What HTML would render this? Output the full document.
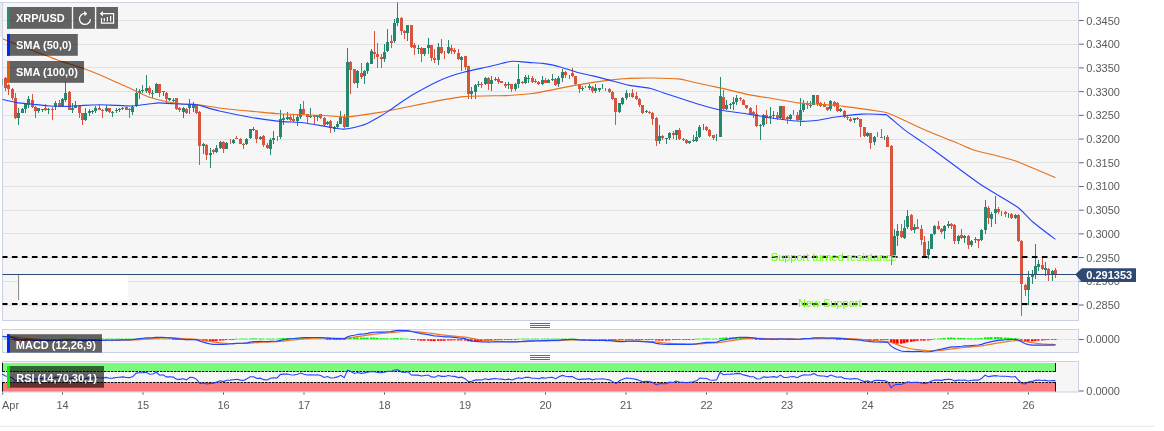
<!DOCTYPE html>
<html><head><meta charset="utf-8"><title>XRP/USD</title>
<style>html,body{margin:0;padding:0;background:#fff}#c{position:relative;width:1164px;height:431px;overflow:hidden;background:#fff}</style></head>
<body><div id="c">
<svg width="1164" height="431" viewBox="0 0 1164 431" style="position:absolute;left:0;top:0">
<rect x="2.5" y="2.5" width="1076.0" height="318.0" fill="#f6f6f6" stroke="#cbd1e8" stroke-width="1"/>
<rect x="2.5" y="329.5" width="1076.0" height="23" fill="#f6f6f6" stroke="#cbd1e8" stroke-width="1"/>
<rect x="2.5" y="361.5" width="1076.0" height="30.5" fill="#f6f6f6" stroke="#cbd1e8" stroke-width="1"/>
<line x1="3.0" x2="1078.0" y1="20.50" y2="20.50" stroke="#e2e2e2" stroke-width="1"/>
<line x1="1079.0" x2="1083.8" y1="20.50" y2="20.50" stroke="#666" stroke-width="1"/>
<line x1="3.0" x2="1078.0" y1="44.50" y2="44.50" stroke="#e2e2e2" stroke-width="1"/>
<line x1="1079.0" x2="1083.8" y1="44.21" y2="44.21" stroke="#666" stroke-width="1"/>
<line x1="3.0" x2="1078.0" y1="67.50" y2="67.50" stroke="#e2e2e2" stroke-width="1"/>
<line x1="1079.0" x2="1083.8" y1="67.92" y2="67.92" stroke="#666" stroke-width="1"/>
<line x1="3.0" x2="1078.0" y1="91.50" y2="91.50" stroke="#e2e2e2" stroke-width="1"/>
<line x1="1079.0" x2="1083.8" y1="91.63" y2="91.63" stroke="#666" stroke-width="1"/>
<line x1="3.0" x2="1078.0" y1="115.50" y2="115.50" stroke="#e2e2e2" stroke-width="1"/>
<line x1="1079.0" x2="1083.8" y1="115.34" y2="115.34" stroke="#666" stroke-width="1"/>
<line x1="3.0" x2="1078.0" y1="139.50" y2="139.50" stroke="#e2e2e2" stroke-width="1"/>
<line x1="1079.0" x2="1083.8" y1="139.05" y2="139.05" stroke="#666" stroke-width="1"/>
<line x1="3.0" x2="1078.0" y1="162.50" y2="162.50" stroke="#e2e2e2" stroke-width="1"/>
<line x1="1079.0" x2="1083.8" y1="162.76" y2="162.76" stroke="#666" stroke-width="1"/>
<line x1="3.0" x2="1078.0" y1="186.50" y2="186.50" stroke="#e2e2e2" stroke-width="1"/>
<line x1="1079.0" x2="1083.8" y1="186.47" y2="186.47" stroke="#666" stroke-width="1"/>
<line x1="3.0" x2="1078.0" y1="210.50" y2="210.50" stroke="#e2e2e2" stroke-width="1"/>
<line x1="1079.0" x2="1083.8" y1="210.18" y2="210.18" stroke="#666" stroke-width="1"/>
<line x1="3.0" x2="1078.0" y1="233.50" y2="233.50" stroke="#e2e2e2" stroke-width="1"/>
<line x1="1079.0" x2="1083.8" y1="233.89" y2="233.89" stroke="#666" stroke-width="1"/>
<line x1="3.0" x2="1078.0" y1="257.50" y2="257.50" stroke="#e2e2e2" stroke-width="1"/>
<line x1="1079.0" x2="1083.8" y1="257.60" y2="257.60" stroke="#666" stroke-width="1"/>
<line x1="3.0" x2="1078.0" y1="281.50" y2="281.50" stroke="#e2e2e2" stroke-width="1"/>
<line x1="1079.0" x2="1083.8" y1="281.31" y2="281.31" stroke="#666" stroke-width="1"/>
<line x1="3.0" x2="1078.0" y1="305.50" y2="305.50" stroke="#e2e2e2" stroke-width="1"/>
<line x1="1079.0" x2="1083.8" y1="305.02" y2="305.02" stroke="#666" stroke-width="1"/>
<line x1="3.0" x2="1078.0" y1="339.5" y2="339.5" stroke="#e2e2e2" stroke-width="1"/>
<line x1="1079.0" x2="1083.8" y1="339.5" y2="339.5" stroke="#666" stroke-width="1"/>
<line x1="1079.0" x2="1083.8" y1="391" y2="391" stroke="#666" stroke-width="1"/>
<rect x="0" y="3" width="2" height="34" fill="#ebebeb"/>
<line x1="0" x2="3" y1="2.5" y2="2.5" stroke="#cbd1e8" stroke-width="1"/>
<rect x="18.4" y="275.1" width="109.4" height="25.9" fill="#ffffff"/>
<line x1="18.6" x2="18.6" y1="275.1" y2="300" stroke="#777" stroke-width="0.9"/>
<clipPath id="cp"><rect x="2.5" y="2.5" width="1076.0" height="318.0"/></clipPath>
<g clip-path="url(#cp)">
<rect x="1.0" y="78" width="1" height="9" fill="#27866e"/>
<rect x="0.0" y="79" width="3" height="6" fill="#27866e"/>
<rect x="5.0" y="77" width="1" height="14" fill="#d9543f"/>
<rect x="4.0" y="78" width="3" height="10" fill="#d9543f"/>
<rect x="8.0" y="84" width="1" height="11" fill="#d9543f"/>
<rect x="7.0" y="85" width="3" height="4" fill="#d9543f"/>
<rect x="12.0" y="88" width="1" height="12" fill="#d9543f"/>
<rect x="11.0" y="89" width="3" height="9" fill="#d9543f"/>
<rect x="15.0" y="93" width="1" height="26" fill="#d9543f"/>
<rect x="14.0" y="98" width="3" height="20" fill="#d9543f"/>
<rect x="18.0" y="108" width="1" height="17" fill="#27866e"/>
<rect x="17.0" y="113" width="3" height="5" fill="#27866e"/>
<rect x="22.0" y="108" width="1" height="5" fill="#27866e"/>
<rect x="21.0" y="109" width="3" height="4" fill="#27866e"/>
<rect x="25.0" y="103" width="1" height="10" fill="#27866e"/>
<rect x="24.0" y="104" width="3" height="5" fill="#27866e"/>
<rect x="28.0" y="96" width="1" height="12" fill="#27866e"/>
<rect x="27.0" y="99" width="3" height="6" fill="#27866e"/>
<rect x="32.0" y="94" width="1" height="14" fill="#d9543f"/>
<rect x="31.0" y="100" width="3" height="7" fill="#d9543f"/>
<rect x="35.0" y="106" width="1" height="12" fill="#d9543f"/>
<rect x="34.0" y="107" width="3" height="4" fill="#d9543f"/>
<rect x="38.0" y="108" width="1" height="5" fill="#27866e"/>
<rect x="37.0" y="108" width="3" height="3" fill="#27866e"/>
<rect x="42.0" y="109" width="1" height="3" fill="#27866e"/>
<rect x="41.0" y="109" width="3" height="1" fill="#27866e"/>
<rect x="45.0" y="104" width="1" height="7" fill="#d9543f"/>
<rect x="44.0" y="108" width="3" height="2" fill="#d9543f"/>
<rect x="48.0" y="108" width="1" height="6" fill="#27866e"/>
<rect x="47.0" y="109" width="3" height="1" fill="#27866e"/>
<rect x="52.0" y="107" width="1" height="13" fill="#d9543f"/>
<rect x="51.0" y="109" width="3" height="1" fill="#d9543f"/>
<rect x="55.0" y="101" width="1" height="9" fill="#27866e"/>
<rect x="54.0" y="103" width="3" height="4" fill="#27866e"/>
<rect x="59.0" y="100" width="1" height="7" fill="#d9543f"/>
<rect x="58.0" y="103" width="3" height="4" fill="#d9543f"/>
<rect x="62.0" y="98" width="1" height="9" fill="#27866e"/>
<rect x="61.0" y="99" width="3" height="7" fill="#27866e"/>
<rect x="65.0" y="82" width="1" height="20" fill="#27866e"/>
<rect x="64.0" y="93" width="3" height="7" fill="#27866e"/>
<rect x="69.0" y="91" width="1" height="19" fill="#d9543f"/>
<rect x="68.0" y="92" width="3" height="18" fill="#d9543f"/>
<rect x="72.0" y="103" width="1" height="10" fill="#27866e"/>
<rect x="71.0" y="108" width="3" height="2" fill="#27866e"/>
<rect x="75.0" y="101" width="1" height="7" fill="#27866e"/>
<rect x="74.0" y="105" width="3" height="3" fill="#27866e"/>
<rect x="79.0" y="105" width="1" height="13" fill="#d9543f"/>
<rect x="78.0" y="106" width="3" height="7" fill="#d9543f"/>
<rect x="82.0" y="113" width="1" height="12" fill="#d9543f"/>
<rect x="81.0" y="113" width="3" height="7" fill="#d9543f"/>
<rect x="85.0" y="108" width="1" height="13" fill="#27866e"/>
<rect x="84.0" y="113" width="3" height="7" fill="#27866e"/>
<rect x="89.0" y="109" width="1" height="7" fill="#27866e"/>
<rect x="88.0" y="111" width="3" height="2" fill="#27866e"/>
<rect x="92.0" y="110" width="1" height="4" fill="#27866e"/>
<rect x="91.0" y="111" width="3" height="1" fill="#27866e"/>
<rect x="95.0" y="106" width="1" height="7" fill="#27866e"/>
<rect x="94.0" y="108" width="3" height="3" fill="#27866e"/>
<rect x="99.0" y="105" width="1" height="5" fill="#d9543f"/>
<rect x="98.0" y="108" width="3" height="2" fill="#d9543f"/>
<rect x="102.0" y="109" width="1" height="9" fill="#d9543f"/>
<rect x="101.0" y="110" width="3" height="1" fill="#d9543f"/>
<rect x="106.0" y="105" width="1" height="7" fill="#27866e"/>
<rect x="105.0" y="108" width="3" height="3" fill="#27866e"/>
<rect x="109.0" y="108" width="1" height="5" fill="#d9543f"/>
<rect x="108.0" y="108" width="3" height="4" fill="#d9543f"/>
<rect x="112.0" y="111" width="1" height="6" fill="#27866e"/>
<rect x="111.0" y="112" width="3" height="1" fill="#27866e"/>
<rect x="116.0" y="108" width="1" height="5" fill="#27866e"/>
<rect x="115.0" y="110" width="3" height="1" fill="#27866e"/>
<rect x="119.0" y="108" width="1" height="4" fill="#27866e"/>
<rect x="118.0" y="109" width="3" height="1" fill="#27866e"/>
<rect x="122.0" y="107" width="1" height="3" fill="#27866e"/>
<rect x="121.0" y="108" width="3" height="1" fill="#27866e"/>
<rect x="126.0" y="107" width="1" height="3" fill="#d9543f"/>
<rect x="125.0" y="107" width="3" height="3" fill="#d9543f"/>
<rect x="129.0" y="108" width="1" height="10" fill="#d9543f"/>
<rect x="128.0" y="109" width="3" height="1" fill="#d9543f"/>
<rect x="132.0" y="105" width="1" height="10" fill="#27866e"/>
<rect x="131.0" y="107" width="3" height="5" fill="#27866e"/>
<rect x="136.0" y="88" width="1" height="19" fill="#27866e"/>
<rect x="135.0" y="93" width="3" height="13" fill="#27866e"/>
<rect x="139.0" y="89" width="1" height="10" fill="#27866e"/>
<rect x="138.0" y="91" width="3" height="2" fill="#27866e"/>
<rect x="142.0" y="85" width="1" height="8" fill="#27866e"/>
<rect x="141.0" y="90" width="3" height="1" fill="#27866e"/>
<rect x="146.0" y="75" width="1" height="18" fill="#27866e"/>
<rect x="145.0" y="88" width="3" height="3" fill="#27866e"/>
<rect x="149.0" y="86" width="1" height="9" fill="#d9543f"/>
<rect x="148.0" y="88" width="3" height="5" fill="#d9543f"/>
<rect x="152.0" y="90" width="1" height="8" fill="#27866e"/>
<rect x="151.0" y="93" width="3" height="1" fill="#27866e"/>
<rect x="156.0" y="83" width="1" height="10" fill="#27866e"/>
<rect x="155.0" y="84" width="3" height="9" fill="#27866e"/>
<rect x="159.0" y="84" width="1" height="13" fill="#d9543f"/>
<rect x="158.0" y="84" width="3" height="9" fill="#d9543f"/>
<rect x="163.0" y="91" width="1" height="5" fill="#27866e"/>
<rect x="162.0" y="91" width="3" height="1" fill="#27866e"/>
<rect x="166.0" y="92" width="1" height="12" fill="#d9543f"/>
<rect x="165.0" y="93" width="3" height="6" fill="#d9543f"/>
<rect x="169.0" y="98" width="1" height="3" fill="#27866e"/>
<rect x="168.0" y="98" width="3" height="2" fill="#27866e"/>
<rect x="173.0" y="98" width="1" height="4" fill="#27866e"/>
<rect x="172.0" y="100" width="3" height="1" fill="#27866e"/>
<rect x="176.0" y="98" width="1" height="12" fill="#d9543f"/>
<rect x="175.0" y="98" width="3" height="11" fill="#d9543f"/>
<rect x="179.0" y="107" width="1" height="5" fill="#d9543f"/>
<rect x="178.0" y="108" width="3" height="2" fill="#d9543f"/>
<rect x="183.0" y="107" width="1" height="11" fill="#27866e"/>
<rect x="182.0" y="108" width="3" height="4" fill="#27866e"/>
<rect x="186.0" y="108" width="1" height="6" fill="#d9543f"/>
<rect x="185.0" y="109" width="3" height="4" fill="#d9543f"/>
<rect x="189.0" y="99" width="1" height="15" fill="#27866e"/>
<rect x="188.0" y="104" width="3" height="4" fill="#27866e"/>
<rect x="193.0" y="102" width="1" height="10" fill="#27866e"/>
<rect x="192.0" y="104" width="3" height="4" fill="#27866e"/>
<rect x="196.0" y="104" width="1" height="10" fill="#d9543f"/>
<rect x="195.0" y="105" width="3" height="8" fill="#d9543f"/>
<rect x="199.0" y="111" width="1" height="54" fill="#d9543f"/>
<rect x="198.0" y="112" width="3" height="34" fill="#d9543f"/>
<rect x="203.0" y="143" width="1" height="11" fill="#27866e"/>
<rect x="202.0" y="144" width="3" height="2" fill="#27866e"/>
<rect x="206.0" y="144" width="1" height="16" fill="#d9543f"/>
<rect x="205.0" y="145" width="3" height="10" fill="#d9543f"/>
<rect x="210.0" y="148" width="1" height="20" fill="#27866e"/>
<rect x="209.0" y="153" width="3" height="2" fill="#27866e"/>
<rect x="213.0" y="149" width="1" height="5" fill="#d9543f"/>
<rect x="212.0" y="150" width="3" height="2" fill="#d9543f"/>
<rect x="216.0" y="145" width="1" height="8" fill="#27866e"/>
<rect x="215.0" y="148" width="3" height="4" fill="#27866e"/>
<rect x="220.0" y="141" width="1" height="8" fill="#27866e"/>
<rect x="219.0" y="142" width="3" height="6" fill="#27866e"/>
<rect x="223.0" y="141" width="1" height="12" fill="#d9543f"/>
<rect x="222.0" y="142" width="3" height="7" fill="#d9543f"/>
<rect x="226.0" y="142" width="1" height="7" fill="#27866e"/>
<rect x="225.0" y="143" width="3" height="6" fill="#27866e"/>
<rect x="230.0" y="139" width="1" height="5" fill="#d9543f"/>
<rect x="233.0" y="139" width="1" height="5" fill="#27866e"/>
<rect x="232.0" y="140" width="3" height="3" fill="#27866e"/>
<rect x="236.0" y="136" width="1" height="3" fill="#d9543f"/>
<rect x="235.0" y="138" width="3" height="1" fill="#d9543f"/>
<rect x="240.0" y="138" width="1" height="6" fill="#d9543f"/>
<rect x="239.0" y="139" width="3" height="5" fill="#d9543f"/>
<rect x="243.0" y="143" width="1" height="6" fill="#d9543f"/>
<rect x="242.0" y="144" width="3" height="1" fill="#d9543f"/>
<rect x="246.0" y="138" width="1" height="7" fill="#27866e"/>
<rect x="245.0" y="139" width="3" height="5" fill="#27866e"/>
<rect x="250.0" y="129" width="1" height="10" fill="#27866e"/>
<rect x="249.0" y="129" width="3" height="9" fill="#27866e"/>
<rect x="253.0" y="127" width="1" height="4" fill="#27866e"/>
<rect x="252.0" y="129" width="3" height="1" fill="#27866e"/>
<rect x="256.0" y="130" width="1" height="13" fill="#d9543f"/>
<rect x="255.0" y="130" width="3" height="9" fill="#d9543f"/>
<rect x="260.0" y="136" width="1" height="4" fill="#27866e"/>
<rect x="259.0" y="137" width="3" height="2" fill="#27866e"/>
<rect x="263.0" y="135" width="1" height="12" fill="#d9543f"/>
<rect x="262.0" y="136" width="3" height="9" fill="#d9543f"/>
<rect x="267.0" y="143" width="1" height="6" fill="#d9543f"/>
<rect x="266.0" y="145" width="3" height="3" fill="#d9543f"/>
<rect x="270.0" y="138" width="1" height="17" fill="#27866e"/>
<rect x="269.0" y="140" width="3" height="9" fill="#27866e"/>
<rect x="273.0" y="131" width="1" height="13" fill="#27866e"/>
<rect x="272.0" y="138" width="3" height="2" fill="#27866e"/>
<rect x="277.0" y="136" width="1" height="5" fill="#d9543f"/>
<rect x="280.0" y="110" width="1" height="29" fill="#27866e"/>
<rect x="279.0" y="119" width="3" height="18" fill="#27866e"/>
<rect x="283.0" y="114" width="1" height="11" fill="#27866e"/>
<rect x="282.0" y="118" width="3" height="2" fill="#27866e"/>
<rect x="287.0" y="112" width="1" height="8" fill="#27866e"/>
<rect x="286.0" y="117" width="3" height="2" fill="#27866e"/>
<rect x="290.0" y="115" width="1" height="6" fill="#d9543f"/>
<rect x="289.0" y="117" width="3" height="3" fill="#d9543f"/>
<rect x="293.0" y="114" width="1" height="8" fill="#d9543f"/>
<rect x="292.0" y="119" width="3" height="2" fill="#d9543f"/>
<rect x="297.0" y="115" width="1" height="11" fill="#27866e"/>
<rect x="296.0" y="117" width="3" height="4" fill="#27866e"/>
<rect x="300.0" y="104" width="1" height="15" fill="#27866e"/>
<rect x="299.0" y="109" width="3" height="8" fill="#27866e"/>
<rect x="303.0" y="101" width="1" height="14" fill="#d9543f"/>
<rect x="302.0" y="109" width="3" height="5" fill="#d9543f"/>
<rect x="307.0" y="114" width="1" height="9" fill="#d9543f"/>
<rect x="306.0" y="114" width="3" height="3" fill="#d9543f"/>
<rect x="310.0" y="108" width="1" height="10" fill="#27866e"/>
<rect x="309.0" y="116" width="3" height="1" fill="#27866e"/>
<rect x="314.0" y="115" width="1" height="9" fill="#d9543f"/>
<rect x="313.0" y="115" width="3" height="2" fill="#d9543f"/>
<rect x="317.0" y="115" width="1" height="6" fill="#27866e"/>
<rect x="316.0" y="115" width="3" height="2" fill="#27866e"/>
<rect x="320.0" y="114" width="1" height="5" fill="#d9543f"/>
<rect x="319.0" y="114" width="3" height="4" fill="#d9543f"/>
<rect x="324.0" y="117" width="1" height="9" fill="#d9543f"/>
<rect x="323.0" y="118" width="3" height="7" fill="#d9543f"/>
<rect x="327.0" y="121" width="1" height="4" fill="#27866e"/>
<rect x="326.0" y="122" width="3" height="2" fill="#27866e"/>
<rect x="330.0" y="120" width="1" height="13" fill="#d9543f"/>
<rect x="329.0" y="121" width="3" height="7" fill="#d9543f"/>
<rect x="334.0" y="126" width="1" height="6" fill="#27866e"/>
<rect x="333.0" y="127" width="3" height="2" fill="#27866e"/>
<rect x="337.0" y="121" width="1" height="8" fill="#27866e"/>
<rect x="336.0" y="124" width="3" height="3" fill="#27866e"/>
<rect x="340.0" y="111" width="1" height="13" fill="#27866e"/>
<rect x="339.0" y="117" width="3" height="7" fill="#27866e"/>
<rect x="344.0" y="114" width="1" height="14" fill="#d9543f"/>
<rect x="343.0" y="117" width="3" height="10" fill="#d9543f"/>
<rect x="347.0" y="48" width="1" height="79" fill="#27866e"/>
<rect x="346.0" y="62" width="3" height="65" fill="#27866e"/>
<rect x="350.0" y="61" width="1" height="33" fill="#d9543f"/>
<rect x="349.0" y="62" width="3" height="8" fill="#d9543f"/>
<rect x="354.0" y="69" width="1" height="15" fill="#d9543f"/>
<rect x="353.0" y="69" width="3" height="14" fill="#d9543f"/>
<rect x="357.0" y="70" width="1" height="18" fill="#27866e"/>
<rect x="356.0" y="71" width="3" height="12" fill="#27866e"/>
<rect x="361.0" y="63" width="1" height="16" fill="#d9543f"/>
<rect x="360.0" y="73" width="3" height="4" fill="#d9543f"/>
<rect x="364.0" y="70" width="1" height="14" fill="#27866e"/>
<rect x="363.0" y="71" width="3" height="5" fill="#27866e"/>
<rect x="367.0" y="62" width="1" height="12" fill="#27866e"/>
<rect x="366.0" y="63" width="3" height="8" fill="#27866e"/>
<rect x="371.0" y="49" width="1" height="15" fill="#27866e"/>
<rect x="370.0" y="51" width="3" height="13" fill="#27866e"/>
<rect x="374.0" y="31" width="1" height="28" fill="#d9543f"/>
<rect x="373.0" y="52" width="3" height="2" fill="#d9543f"/>
<rect x="377.0" y="43" width="1" height="25" fill="#d9543f"/>
<rect x="376.0" y="54" width="3" height="3" fill="#d9543f"/>
<rect x="381.0" y="54" width="1" height="14" fill="#d9543f"/>
<rect x="380.0" y="57" width="3" height="2" fill="#d9543f"/>
<rect x="384.0" y="44" width="1" height="18" fill="#27866e"/>
<rect x="383.0" y="52" width="3" height="7" fill="#27866e"/>
<rect x="387.0" y="29" width="1" height="23" fill="#27866e"/>
<rect x="386.0" y="42" width="3" height="9" fill="#27866e"/>
<rect x="391.0" y="35" width="1" height="13" fill="#d9543f"/>
<rect x="390.0" y="41" width="3" height="2" fill="#d9543f"/>
<rect x="394.0" y="19" width="1" height="24" fill="#27866e"/>
<rect x="393.0" y="23" width="3" height="18" fill="#27866e"/>
<rect x="397.0" y="2" width="1" height="24" fill="#27866e"/>
<rect x="396.0" y="18" width="3" height="5" fill="#27866e"/>
<rect x="401.0" y="17" width="1" height="18" fill="#d9543f"/>
<rect x="400.0" y="18" width="3" height="13" fill="#d9543f"/>
<rect x="404.0" y="30" width="1" height="9" fill="#d9543f"/>
<rect x="403.0" y="31" width="3" height="2" fill="#d9543f"/>
<rect x="407.0" y="25" width="1" height="16" fill="#27866e"/>
<rect x="406.0" y="25" width="3" height="8" fill="#27866e"/>
<rect x="411.0" y="25" width="1" height="23" fill="#d9543f"/>
<rect x="410.0" y="25" width="3" height="22" fill="#d9543f"/>
<rect x="414.0" y="43" width="1" height="12" fill="#d9543f"/>
<rect x="413.0" y="45" width="3" height="3" fill="#d9543f"/>
<rect x="418.0" y="45" width="1" height="9" fill="#27866e"/>
<rect x="417.0" y="48" width="3" height="1" fill="#27866e"/>
<rect x="421.0" y="47" width="1" height="15" fill="#d9543f"/>
<rect x="420.0" y="48" width="3" height="6" fill="#d9543f"/>
<rect x="424.0" y="48" width="1" height="8" fill="#27866e"/>
<rect x="423.0" y="48" width="3" height="6" fill="#27866e"/>
<rect x="428.0" y="38" width="1" height="16" fill="#27866e"/>
<rect x="427.0" y="45" width="3" height="3" fill="#27866e"/>
<rect x="431.0" y="45" width="1" height="16" fill="#d9543f"/>
<rect x="430.0" y="45" width="3" height="13" fill="#d9543f"/>
<rect x="434.0" y="49" width="1" height="14" fill="#d9543f"/>
<rect x="433.0" y="58" width="3" height="2" fill="#d9543f"/>
<rect x="438.0" y="43" width="1" height="22" fill="#27866e"/>
<rect x="437.0" y="47" width="3" height="13" fill="#27866e"/>
<rect x="441.0" y="39" width="1" height="15" fill="#d9543f"/>
<rect x="440.0" y="47" width="3" height="6" fill="#d9543f"/>
<rect x="444.0" y="51" width="1" height="8" fill="#d9543f"/>
<rect x="448.0" y="40" width="1" height="14" fill="#27866e"/>
<rect x="447.0" y="47" width="3" height="6" fill="#27866e"/>
<rect x="451.0" y="45" width="1" height="9" fill="#d9543f"/>
<rect x="450.0" y="48" width="3" height="3" fill="#d9543f"/>
<rect x="454.0" y="48" width="1" height="6" fill="#d9543f"/>
<rect x="453.0" y="50" width="3" height="2" fill="#d9543f"/>
<rect x="458.0" y="49" width="1" height="11" fill="#d9543f"/>
<rect x="457.0" y="53" width="3" height="6" fill="#d9543f"/>
<rect x="461.0" y="56" width="1" height="15" fill="#27866e"/>
<rect x="460.0" y="57" width="3" height="3" fill="#27866e"/>
<rect x="465.0" y="56" width="1" height="14" fill="#d9543f"/>
<rect x="464.0" y="56" width="3" height="11" fill="#d9543f"/>
<rect x="468.0" y="66" width="1" height="33" fill="#d9543f"/>
<rect x="467.0" y="66" width="3" height="28" fill="#d9543f"/>
<rect x="471.0" y="87" width="1" height="12" fill="#27866e"/>
<rect x="470.0" y="91" width="3" height="3" fill="#27866e"/>
<rect x="475.0" y="84" width="1" height="15" fill="#27866e"/>
<rect x="474.0" y="85" width="3" height="7" fill="#27866e"/>
<rect x="478.0" y="81" width="1" height="6" fill="#27866e"/>
<rect x="477.0" y="84" width="3" height="1" fill="#27866e"/>
<rect x="481.0" y="82" width="1" height="6" fill="#d9543f"/>
<rect x="480.0" y="84" width="3" height="1" fill="#d9543f"/>
<rect x="485.0" y="77" width="1" height="8" fill="#27866e"/>
<rect x="484.0" y="78" width="3" height="6" fill="#27866e"/>
<rect x="488.0" y="77" width="1" height="13" fill="#d9543f"/>
<rect x="487.0" y="78" width="3" height="6" fill="#d9543f"/>
<rect x="491.0" y="76" width="1" height="15" fill="#27866e"/>
<rect x="490.0" y="80" width="3" height="4" fill="#27866e"/>
<rect x="495.0" y="77" width="1" height="4" fill="#27866e"/>
<rect x="494.0" y="79" width="3" height="1" fill="#27866e"/>
<rect x="498.0" y="77" width="1" height="7" fill="#d9543f"/>
<rect x="497.0" y="79" width="3" height="3" fill="#d9543f"/>
<rect x="501.0" y="81" width="1" height="2" fill="#d9543f"/>
<rect x="500.0" y="81" width="3" height="2" fill="#d9543f"/>
<rect x="505.0" y="82" width="1" height="6" fill="#d9543f"/>
<rect x="504.0" y="84" width="3" height="2" fill="#d9543f"/>
<rect x="508.0" y="82" width="1" height="7" fill="#27866e"/>
<rect x="507.0" y="84" width="3" height="1" fill="#27866e"/>
<rect x="511.0" y="84" width="1" height="8" fill="#d9543f"/>
<rect x="510.0" y="84" width="3" height="5" fill="#d9543f"/>
<rect x="515.0" y="83" width="1" height="8" fill="#27866e"/>
<rect x="514.0" y="84" width="3" height="5" fill="#27866e"/>
<rect x="518.0" y="64" width="1" height="24" fill="#27866e"/>
<rect x="517.0" y="79" width="3" height="5" fill="#27866e"/>
<rect x="522.0" y="81" width="1" height="3" fill="#d9543f"/>
<rect x="521.0" y="82" width="3" height="1" fill="#d9543f"/>
<rect x="525.0" y="75" width="1" height="9" fill="#27866e"/>
<rect x="524.0" y="77" width="3" height="6" fill="#27866e"/>
<rect x="528.0" y="75" width="1" height="8" fill="#27866e"/>
<rect x="527.0" y="78" width="3" height="1" fill="#27866e"/>
<rect x="532.0" y="76" width="1" height="7" fill="#d9543f"/>
<rect x="531.0" y="78" width="3" height="4" fill="#d9543f"/>
<rect x="535.0" y="79" width="1" height="4" fill="#d9543f"/>
<rect x="534.0" y="81" width="3" height="1" fill="#d9543f"/>
<rect x="538.0" y="81" width="1" height="4" fill="#d9543f"/>
<rect x="537.0" y="82" width="3" height="2" fill="#d9543f"/>
<rect x="542.0" y="76" width="1" height="9" fill="#27866e"/>
<rect x="541.0" y="80" width="3" height="4" fill="#27866e"/>
<rect x="545.0" y="78" width="1" height="5" fill="#d9543f"/>
<rect x="544.0" y="80" width="3" height="3" fill="#d9543f"/>
<rect x="548.0" y="79" width="1" height="4" fill="#27866e"/>
<rect x="547.0" y="80" width="3" height="3" fill="#27866e"/>
<rect x="552.0" y="74" width="1" height="7" fill="#27866e"/>
<rect x="551.0" y="79" width="3" height="1" fill="#27866e"/>
<rect x="555.0" y="78" width="1" height="8" fill="#d9543f"/>
<rect x="554.0" y="79" width="3" height="6" fill="#d9543f"/>
<rect x="558.0" y="76" width="1" height="11" fill="#27866e"/>
<rect x="557.0" y="78" width="3" height="6" fill="#27866e"/>
<rect x="562.0" y="69" width="1" height="13" fill="#27866e"/>
<rect x="561.0" y="72" width="3" height="6" fill="#27866e"/>
<rect x="565.0" y="71" width="1" height="7" fill="#d9543f"/>
<rect x="564.0" y="72" width="3" height="3" fill="#d9543f"/>
<rect x="569.0" y="75" width="1" height="4" fill="#27866e"/>
<rect x="572.0" y="68" width="1" height="9" fill="#d9543f"/>
<rect x="571.0" y="73" width="3" height="3" fill="#d9543f"/>
<rect x="575.0" y="76" width="1" height="9" fill="#d9543f"/>
<rect x="574.0" y="76" width="3" height="8" fill="#d9543f"/>
<rect x="579.0" y="84" width="1" height="9" fill="#d9543f"/>
<rect x="578.0" y="84" width="3" height="5" fill="#d9543f"/>
<rect x="582.0" y="86" width="1" height="5" fill="#27866e"/>
<rect x="581.0" y="88" width="3" height="1" fill="#27866e"/>
<rect x="585.0" y="86" width="1" height="2" fill="#d9543f"/>
<rect x="589.0" y="84" width="1" height="6" fill="#27866e"/>
<rect x="588.0" y="86" width="3" height="2" fill="#27866e"/>
<rect x="592.0" y="86" width="1" height="7" fill="#d9543f"/>
<rect x="591.0" y="87" width="3" height="4" fill="#d9543f"/>
<rect x="595.0" y="84" width="1" height="9" fill="#27866e"/>
<rect x="594.0" y="88" width="3" height="3" fill="#27866e"/>
<rect x="599.0" y="88" width="1" height="4" fill="#27866e"/>
<rect x="598.0" y="88" width="3" height="2" fill="#27866e"/>
<rect x="602.0" y="84" width="1" height="5" fill="#27866e"/>
<rect x="605.0" y="88" width="1" height="3" fill="#d9543f"/>
<rect x="609.0" y="88" width="1" height="5" fill="#d9543f"/>
<rect x="608.0" y="89" width="3" height="3" fill="#d9543f"/>
<rect x="612.0" y="91" width="1" height="9" fill="#d9543f"/>
<rect x="611.0" y="92" width="3" height="7" fill="#d9543f"/>
<rect x="615.0" y="98" width="1" height="27" fill="#d9543f"/>
<rect x="614.0" y="98" width="3" height="14" fill="#d9543f"/>
<rect x="619.0" y="103" width="1" height="10" fill="#27866e"/>
<rect x="618.0" y="103" width="3" height="9" fill="#27866e"/>
<rect x="622.0" y="97" width="1" height="8" fill="#27866e"/>
<rect x="621.0" y="98" width="3" height="6" fill="#27866e"/>
<rect x="626.0" y="90" width="1" height="10" fill="#27866e"/>
<rect x="625.0" y="93" width="3" height="5" fill="#27866e"/>
<rect x="629.0" y="93" width="1" height="4" fill="#27866e"/>
<rect x="632.0" y="89" width="1" height="9" fill="#d9543f"/>
<rect x="631.0" y="93" width="3" height="4" fill="#d9543f"/>
<rect x="636.0" y="92" width="1" height="8" fill="#d9543f"/>
<rect x="635.0" y="96" width="3" height="3" fill="#d9543f"/>
<rect x="639.0" y="98" width="1" height="9" fill="#d9543f"/>
<rect x="638.0" y="99" width="3" height="6" fill="#d9543f"/>
<rect x="642.0" y="105" width="1" height="9" fill="#d9543f"/>
<rect x="641.0" y="105" width="3" height="8" fill="#d9543f"/>
<rect x="646.0" y="110" width="1" height="3" fill="#27866e"/>
<rect x="645.0" y="111" width="3" height="1" fill="#27866e"/>
<rect x="649.0" y="111" width="1" height="3" fill="#d9543f"/>
<rect x="648.0" y="112" width="3" height="1" fill="#d9543f"/>
<rect x="652.0" y="112" width="1" height="13" fill="#d9543f"/>
<rect x="651.0" y="113" width="3" height="6" fill="#d9543f"/>
<rect x="656.0" y="117" width="1" height="29" fill="#d9543f"/>
<rect x="655.0" y="118" width="3" height="23" fill="#d9543f"/>
<rect x="659.0" y="125" width="1" height="19" fill="#27866e"/>
<rect x="658.0" y="136" width="3" height="5" fill="#27866e"/>
<rect x="662.0" y="135" width="1" height="5" fill="#d9543f"/>
<rect x="661.0" y="136" width="3" height="2" fill="#d9543f"/>
<rect x="666.0" y="138" width="1" height="6" fill="#27866e"/>
<rect x="665.0" y="138" width="3" height="1" fill="#27866e"/>
<rect x="669.0" y="132" width="1" height="8" fill="#27866e"/>
<rect x="668.0" y="133" width="3" height="5" fill="#27866e"/>
<rect x="673.0" y="131" width="1" height="8" fill="#d9543f"/>
<rect x="672.0" y="133" width="3" height="2" fill="#d9543f"/>
<rect x="676.0" y="130" width="1" height="10" fill="#27866e"/>
<rect x="675.0" y="130" width="3" height="5" fill="#27866e"/>
<rect x="679.0" y="128" width="1" height="12" fill="#d9543f"/>
<rect x="678.0" y="130" width="3" height="9" fill="#d9543f"/>
<rect x="683.0" y="138" width="1" height="3" fill="#d9543f"/>
<rect x="682.0" y="139" width="3" height="1" fill="#d9543f"/>
<rect x="686.0" y="139" width="1" height="5" fill="#d9543f"/>
<rect x="685.0" y="140" width="3" height="3" fill="#d9543f"/>
<rect x="689.0" y="141" width="1" height="3" fill="#27866e"/>
<rect x="688.0" y="141" width="3" height="2" fill="#27866e"/>
<rect x="693.0" y="135" width="1" height="7" fill="#27866e"/>
<rect x="692.0" y="140" width="3" height="1" fill="#27866e"/>
<rect x="696.0" y="131" width="1" height="11" fill="#27866e"/>
<rect x="695.0" y="137" width="3" height="4" fill="#27866e"/>
<rect x="699.0" y="125" width="1" height="13" fill="#27866e"/>
<rect x="698.0" y="127" width="3" height="10" fill="#27866e"/>
<rect x="703.0" y="124" width="1" height="6" fill="#27866e"/>
<rect x="706.0" y="126" width="1" height="5" fill="#d9543f"/>
<rect x="705.0" y="127" width="3" height="3" fill="#d9543f"/>
<rect x="709.0" y="129" width="1" height="8" fill="#d9543f"/>
<rect x="708.0" y="130" width="3" height="6" fill="#d9543f"/>
<rect x="713.0" y="135" width="1" height="5" fill="#d9543f"/>
<rect x="712.0" y="135" width="3" height="3" fill="#d9543f"/>
<rect x="716.0" y="134" width="1" height="7" fill="#27866e"/>
<rect x="720.0" y="77" width="1" height="60" fill="#27866e"/>
<rect x="719.0" y="96" width="3" height="41" fill="#27866e"/>
<rect x="723.0" y="90" width="1" height="20" fill="#d9543f"/>
<rect x="722.0" y="97" width="3" height="12" fill="#d9543f"/>
<rect x="726.0" y="100" width="1" height="10" fill="#27866e"/>
<rect x="725.0" y="105" width="3" height="4" fill="#27866e"/>
<rect x="730.0" y="103" width="1" height="6" fill="#27866e"/>
<rect x="729.0" y="104" width="3" height="1" fill="#27866e"/>
<rect x="733.0" y="97" width="1" height="13" fill="#27866e"/>
<rect x="732.0" y="102" width="3" height="2" fill="#27866e"/>
<rect x="736.0" y="95" width="1" height="10" fill="#27866e"/>
<rect x="735.0" y="98" width="3" height="4" fill="#27866e"/>
<rect x="740.0" y="97" width="1" height="4" fill="#d9543f"/>
<rect x="739.0" y="98" width="3" height="1" fill="#d9543f"/>
<rect x="743.0" y="99" width="1" height="6" fill="#d9543f"/>
<rect x="742.0" y="100" width="3" height="5" fill="#d9543f"/>
<rect x="746.0" y="105" width="1" height="4" fill="#d9543f"/>
<rect x="745.0" y="105" width="3" height="3" fill="#d9543f"/>
<rect x="750.0" y="107" width="1" height="8" fill="#d9543f"/>
<rect x="749.0" y="108" width="3" height="6" fill="#d9543f"/>
<rect x="753.0" y="111" width="1" height="7" fill="#d9543f"/>
<rect x="752.0" y="112" width="3" height="2" fill="#d9543f"/>
<rect x="756.0" y="105" width="1" height="22" fill="#d9543f"/>
<rect x="755.0" y="114" width="3" height="12" fill="#d9543f"/>
<rect x="760.0" y="124" width="1" height="16" fill="#27866e"/>
<rect x="759.0" y="125" width="3" height="1" fill="#27866e"/>
<rect x="763.0" y="114" width="1" height="13" fill="#27866e"/>
<rect x="762.0" y="115" width="3" height="10" fill="#27866e"/>
<rect x="766.0" y="110" width="1" height="14" fill="#d9543f"/>
<rect x="765.0" y="115" width="3" height="3" fill="#d9543f"/>
<rect x="770.0" y="107" width="1" height="17" fill="#27866e"/>
<rect x="769.0" y="116" width="3" height="1" fill="#27866e"/>
<rect x="773.0" y="111" width="1" height="8" fill="#27866e"/>
<rect x="772.0" y="115" width="3" height="1" fill="#27866e"/>
<rect x="777.0" y="112" width="1" height="8" fill="#d9543f"/>
<rect x="776.0" y="115" width="3" height="3" fill="#d9543f"/>
<rect x="780.0" y="106" width="1" height="13" fill="#27866e"/>
<rect x="779.0" y="106" width="3" height="12" fill="#27866e"/>
<rect x="783.0" y="106" width="1" height="14" fill="#d9543f"/>
<rect x="782.0" y="106" width="3" height="13" fill="#d9543f"/>
<rect x="787.0" y="116" width="1" height="8" fill="#d9543f"/>
<rect x="786.0" y="117" width="3" height="2" fill="#d9543f"/>
<rect x="790.0" y="114" width="1" height="6" fill="#27866e"/>
<rect x="789.0" y="115" width="3" height="4" fill="#27866e"/>
<rect x="793.0" y="110" width="1" height="5" fill="#d9543f"/>
<rect x="797.0" y="112" width="1" height="9" fill="#d9543f"/>
<rect x="796.0" y="115" width="3" height="5" fill="#d9543f"/>
<rect x="800.0" y="98" width="1" height="28" fill="#27866e"/>
<rect x="799.0" y="110" width="3" height="10" fill="#27866e"/>
<rect x="803.0" y="100" width="1" height="12" fill="#27866e"/>
<rect x="802.0" y="104" width="3" height="6" fill="#27866e"/>
<rect x="807.0" y="101" width="1" height="8" fill="#d9543f"/>
<rect x="806.0" y="103" width="3" height="2" fill="#d9543f"/>
<rect x="810.0" y="101" width="1" height="7" fill="#27866e"/>
<rect x="809.0" y="105" width="3" height="1" fill="#27866e"/>
<rect x="813.0" y="95" width="1" height="10" fill="#27866e"/>
<rect x="812.0" y="95" width="3" height="10" fill="#27866e"/>
<rect x="817.0" y="95" width="1" height="11" fill="#d9543f"/>
<rect x="816.0" y="95" width="3" height="9" fill="#d9543f"/>
<rect x="820.0" y="102" width="1" height="5" fill="#d9543f"/>
<rect x="819.0" y="103" width="3" height="3" fill="#d9543f"/>
<rect x="824.0" y="102" width="1" height="5" fill="#d9543f"/>
<rect x="823.0" y="104" width="3" height="3" fill="#d9543f"/>
<rect x="827.0" y="107" width="1" height="4" fill="#d9543f"/>
<rect x="826.0" y="107" width="3" height="3" fill="#d9543f"/>
<rect x="830.0" y="100" width="1" height="11" fill="#27866e"/>
<rect x="829.0" y="101" width="3" height="8" fill="#27866e"/>
<rect x="834.0" y="101" width="1" height="6" fill="#d9543f"/>
<rect x="833.0" y="102" width="3" height="4" fill="#d9543f"/>
<rect x="837.0" y="102" width="1" height="10" fill="#d9543f"/>
<rect x="836.0" y="103" width="3" height="8" fill="#d9543f"/>
<rect x="840.0" y="108" width="1" height="4" fill="#27866e"/>
<rect x="839.0" y="109" width="3" height="2" fill="#27866e"/>
<rect x="844.0" y="110" width="1" height="8" fill="#d9543f"/>
<rect x="843.0" y="111" width="3" height="6" fill="#d9543f"/>
<rect x="847.0" y="116" width="1" height="4" fill="#d9543f"/>
<rect x="846.0" y="117" width="3" height="1" fill="#d9543f"/>
<rect x="850.0" y="117" width="1" height="5" fill="#d9543f"/>
<rect x="849.0" y="119" width="3" height="2" fill="#d9543f"/>
<rect x="854.0" y="118" width="1" height="5" fill="#27866e"/>
<rect x="853.0" y="118" width="3" height="2" fill="#27866e"/>
<rect x="857.0" y="117" width="1" height="3" fill="#d9543f"/>
<rect x="856.0" y="118" width="3" height="1" fill="#d9543f"/>
<rect x="860.0" y="119" width="1" height="18" fill="#d9543f"/>
<rect x="859.0" y="119" width="3" height="8" fill="#d9543f"/>
<rect x="864.0" y="127" width="1" height="10" fill="#d9543f"/>
<rect x="863.0" y="127" width="3" height="9" fill="#d9543f"/>
<rect x="867.0" y="132" width="1" height="5" fill="#27866e"/>
<rect x="866.0" y="133" width="3" height="3" fill="#27866e"/>
<rect x="870.0" y="133" width="1" height="16" fill="#d9543f"/>
<rect x="869.0" y="133" width="3" height="10" fill="#d9543f"/>
<rect x="874.0" y="136" width="1" height="9" fill="#27866e"/>
<rect x="873.0" y="137" width="3" height="5" fill="#27866e"/>
<rect x="877.0" y="132" width="1" height="5" fill="#d9543f"/>
<rect x="881.0" y="129" width="1" height="9" fill="#d9543f"/>
<rect x="880.0" y="137" width="3" height="1" fill="#d9543f"/>
<rect x="884.0" y="136" width="1" height="4" fill="#27866e"/>
<rect x="887.0" y="135" width="1" height="12" fill="#d9543f"/>
<rect x="886.0" y="137" width="3" height="10" fill="#d9543f"/>
<rect x="891.0" y="145" width="1" height="120" fill="#d9543f"/>
<rect x="890.0" y="146" width="3" height="110" fill="#d9543f"/>
<rect x="894.0" y="229" width="1" height="27" fill="#27866e"/>
<rect x="893.0" y="236" width="3" height="19" fill="#27866e"/>
<rect x="897.0" y="224" width="1" height="22" fill="#27866e"/>
<rect x="896.0" y="231" width="3" height="5" fill="#27866e"/>
<rect x="901.0" y="224" width="1" height="14" fill="#d9543f"/>
<rect x="900.0" y="231" width="3" height="6" fill="#d9543f"/>
<rect x="904.0" y="220" width="1" height="19" fill="#27866e"/>
<rect x="903.0" y="228" width="3" height="10" fill="#27866e"/>
<rect x="907.0" y="210" width="1" height="19" fill="#27866e"/>
<rect x="906.0" y="216" width="3" height="11" fill="#27866e"/>
<rect x="911.0" y="214" width="1" height="17" fill="#d9543f"/>
<rect x="910.0" y="215" width="3" height="15" fill="#d9543f"/>
<rect x="914.0" y="224" width="1" height="9" fill="#27866e"/>
<rect x="913.0" y="227" width="3" height="3" fill="#27866e"/>
<rect x="917.0" y="219" width="1" height="10" fill="#d9543f"/>
<rect x="916.0" y="227" width="3" height="2" fill="#d9543f"/>
<rect x="921.0" y="225" width="1" height="20" fill="#d9543f"/>
<rect x="920.0" y="229" width="3" height="11" fill="#d9543f"/>
<rect x="924.0" y="236" width="1" height="21" fill="#d9543f"/>
<rect x="923.0" y="242" width="3" height="14" fill="#d9543f"/>
<rect x="928.0" y="241" width="1" height="18" fill="#27866e"/>
<rect x="927.0" y="249" width="3" height="6" fill="#27866e"/>
<rect x="931.0" y="234" width="1" height="15" fill="#27866e"/>
<rect x="930.0" y="234" width="3" height="15" fill="#27866e"/>
<rect x="934.0" y="225" width="1" height="10" fill="#27866e"/>
<rect x="933.0" y="226" width="3" height="8" fill="#27866e"/>
<rect x="938.0" y="221" width="1" height="9" fill="#d9543f"/>
<rect x="937.0" y="226" width="3" height="3" fill="#d9543f"/>
<rect x="941.0" y="228" width="1" height="6" fill="#d9543f"/>
<rect x="940.0" y="229" width="3" height="3" fill="#d9543f"/>
<rect x="944.0" y="225" width="1" height="14" fill="#27866e"/>
<rect x="943.0" y="226" width="3" height="5" fill="#27866e"/>
<rect x="948.0" y="221" width="1" height="7" fill="#27866e"/>
<rect x="947.0" y="224" width="3" height="2" fill="#27866e"/>
<rect x="951.0" y="223" width="1" height="6" fill="#d9543f"/>
<rect x="950.0" y="224" width="3" height="2" fill="#d9543f"/>
<rect x="954.0" y="224" width="1" height="20" fill="#d9543f"/>
<rect x="953.0" y="225" width="3" height="16" fill="#d9543f"/>
<rect x="958.0" y="235" width="1" height="9" fill="#27866e"/>
<rect x="957.0" y="236" width="3" height="5" fill="#27866e"/>
<rect x="961.0" y="229" width="1" height="10" fill="#d9543f"/>
<rect x="960.0" y="235" width="3" height="3" fill="#d9543f"/>
<rect x="964.0" y="235" width="1" height="8" fill="#27866e"/>
<rect x="963.0" y="236" width="3" height="2" fill="#27866e"/>
<rect x="968.0" y="235" width="1" height="14" fill="#d9543f"/>
<rect x="967.0" y="236" width="3" height="9" fill="#d9543f"/>
<rect x="971.0" y="240" width="1" height="7" fill="#27866e"/>
<rect x="970.0" y="241" width="3" height="4" fill="#27866e"/>
<rect x="975.0" y="237" width="1" height="6" fill="#27866e"/>
<rect x="974.0" y="239" width="3" height="1" fill="#27866e"/>
<rect x="978.0" y="239" width="1" height="9" fill="#d9543f"/>
<rect x="977.0" y="239" width="3" height="2" fill="#d9543f"/>
<rect x="981.0" y="229" width="1" height="12" fill="#27866e"/>
<rect x="980.0" y="230" width="3" height="10" fill="#27866e"/>
<rect x="985.0" y="200" width="1" height="34" fill="#27866e"/>
<rect x="984.0" y="207" width="3" height="23" fill="#27866e"/>
<rect x="988.0" y="206" width="1" height="18" fill="#d9543f"/>
<rect x="987.0" y="208" width="3" height="10" fill="#d9543f"/>
<rect x="991.0" y="212" width="1" height="15" fill="#27866e"/>
<rect x="990.0" y="214" width="3" height="5" fill="#27866e"/>
<rect x="995.0" y="196" width="1" height="28" fill="#27866e"/>
<rect x="994.0" y="209" width="3" height="4" fill="#27866e"/>
<rect x="998.0" y="207" width="1" height="7" fill="#d9543f"/>
<rect x="997.0" y="209" width="3" height="3" fill="#d9543f"/>
<rect x="1001.0" y="211" width="1" height="5" fill="#d9543f"/>
<rect x="1005.0" y="211" width="1" height="6" fill="#d9543f"/>
<rect x="1004.0" y="212" width="3" height="2" fill="#d9543f"/>
<rect x="1008.0" y="213" width="1" height="5" fill="#27866e"/>
<rect x="1011.0" y="213" width="1" height="6" fill="#d9543f"/>
<rect x="1010.0" y="214" width="3" height="4" fill="#d9543f"/>
<rect x="1015.0" y="214" width="1" height="5" fill="#27866e"/>
<rect x="1014.0" y="215" width="3" height="3" fill="#27866e"/>
<rect x="1018.0" y="214" width="1" height="28" fill="#d9543f"/>
<rect x="1017.0" y="215" width="3" height="26" fill="#d9543f"/>
<rect x="1021.0" y="240" width="1" height="76" fill="#d9543f"/>
<rect x="1020.0" y="241" width="3" height="43" fill="#d9543f"/>
<rect x="1025.0" y="284" width="1" height="12" fill="#d9543f"/>
<rect x="1024.0" y="285" width="3" height="5" fill="#d9543f"/>
<rect x="1028.0" y="271" width="1" height="34" fill="#27866e"/>
<rect x="1027.0" y="277" width="3" height="13" fill="#27866e"/>
<rect x="1032.0" y="270" width="1" height="14" fill="#27866e"/>
<rect x="1031.0" y="274" width="3" height="3" fill="#27866e"/>
<rect x="1035.0" y="244" width="1" height="35" fill="#27866e"/>
<rect x="1034.0" y="266" width="3" height="8" fill="#27866e"/>
<rect x="1038.0" y="260" width="1" height="11" fill="#27866e"/>
<rect x="1037.0" y="264" width="3" height="3" fill="#27866e"/>
<rect x="1042.0" y="258" width="1" height="12" fill="#d9543f"/>
<rect x="1041.0" y="265" width="3" height="4" fill="#d9543f"/>
<rect x="1045.0" y="262" width="1" height="14" fill="#27866e"/>
<rect x="1044.0" y="268" width="3" height="2" fill="#27866e"/>
<rect x="1048.0" y="268" width="1" height="13" fill="#d9543f"/>
<rect x="1047.0" y="269" width="3" height="6" fill="#d9543f"/>
<rect x="1052.0" y="270" width="1" height="11" fill="#27866e"/>
<rect x="1051.0" y="271" width="3" height="3" fill="#27866e"/>
<rect x="1055.0" y="268" width="1" height="10" fill="#d9543f"/>
<rect x="1054.0" y="270" width="3" height="4" fill="#d9543f"/>
<path d="M2.5,38.8C5.0,39.8 19.7,45.6 25.0,47.6C30.3,49.6 46.4,55.7 50.0,57.1C53.6,58.5 53.9,58.7 57.6,60.0C61.3,61.3 78.8,66.7 83.5,68.4C88.2,70.1 96.6,73.4 100.3,75.0C104.0,76.6 113.3,80.9 117.0,82.6C120.7,84.3 130.0,88.3 133.7,90.0C137.4,91.7 146.7,96.3 150.4,97.6C154.1,98.9 163.3,101.1 167.0,101.8C170.7,102.5 180.5,104.0 183.8,104.3C187.1,104.6 192.9,104.2 196.9,104.6C200.9,105.0 213.2,107.2 219.4,108.0C225.6,108.8 246.1,110.8 252.8,111.4C259.5,112.0 274.0,113.4 279.6,113.8C285.2,114.2 297.6,114.5 303.0,114.7C308.4,114.9 323.6,115.6 328.0,115.8C332.4,116.0 340.2,116.8 343.0,116.9C345.8,117.0 349.0,116.9 353.1,116.4C357.2,115.9 375.9,113.0 379.8,112.4C383.7,111.8 383.6,111.8 388.5,110.8C393.4,109.8 415.2,105.2 423.5,103.6C431.8,102.0 454.3,97.5 463.6,96.6C472.9,95.7 499.7,95.9 507.1,95.6C514.5,95.3 525.1,94.4 530.0,93.8C534.9,93.2 546.0,91.1 551.1,90.1C556.2,89.1 569.6,86.2 576.1,85.1C582.6,84.0 603.6,80.8 609.5,80.1C615.4,79.4 625.0,78.6 629.6,78.4C634.2,78.2 645.9,77.9 651.3,78.0C656.7,78.1 673.2,78.4 678.2,78.9C683.2,79.4 691.4,81.8 696.0,82.8C700.6,83.8 714.2,86.6 720.0,87.9C725.8,89.2 742.6,93.4 748.6,94.6C754.6,95.8 768.1,97.8 773.7,98.7C779.3,99.6 793.8,102.3 798.7,102.9C803.6,103.5 814.1,103.8 818.0,104.1C821.9,104.4 830.8,105.1 833.8,105.4C836.8,105.7 841.1,106.1 845.1,106.6C849.1,107.1 865.5,109.2 870.1,109.9C874.7,110.6 883.1,111.6 886.8,112.7C890.5,113.8 898.9,117.8 903.5,119.9C908.1,122.0 923.0,129.2 928.6,131.6C934.2,134.0 948.7,139.6 953.7,141.6C958.7,143.6 968.8,148.4 973.6,150.0C978.4,151.6 992.2,154.5 997.0,155.8C1001.8,157.1 1010.5,159.0 1017.0,161.4C1023.5,163.8 1051.1,175.8 1055.4,177.6" fill="none" stroke="#e8701a" stroke-width="1.1"/>
<path d="M2.0,99.3C3.6,99.7 13.2,102.0 16.7,102.6C20.2,103.2 29.7,103.9 33.4,104.3C37.1,104.7 46.4,105.8 50.1,106.0C53.8,106.2 63.1,106.5 66.8,106.4C70.5,106.3 79.8,105.6 83.5,105.4C87.2,105.2 96.6,104.8 100.3,104.8C104.0,104.8 113.3,105.3 117.0,105.4C120.7,105.5 130.0,106.2 133.7,106.0C137.4,105.8 147.6,104.1 150.4,103.8C153.2,103.5 155.9,102.9 158.7,102.9C161.5,102.9 171.9,103.6 175.4,103.8C178.9,104.0 187.6,104.3 190.0,104.4C192.4,104.5 193.6,104.0 196.9,104.7C200.2,105.4 213.2,109.6 219.4,111.0C225.6,112.4 246.1,116.5 252.8,117.7C259.5,118.9 274.0,120.8 279.6,121.4C285.2,122.0 297.6,122.1 303.0,122.7C308.4,123.3 323.6,126.2 328.0,126.9C332.4,127.6 340.2,129.0 343.0,129.1C345.8,129.2 350.5,128.3 353.1,127.7C355.7,127.1 363.0,125.2 366.0,124.0C369.0,122.8 377.3,117.9 379.8,116.5C382.3,115.1 384.9,113.5 388.5,111.1C392.1,108.7 406.0,98.7 411.8,95.3C417.6,91.9 434.5,82.8 440.3,80.2C446.1,77.6 458.0,73.7 463.6,72.2C469.2,70.7 485.8,67.4 490.4,66.3C495.0,65.2 502.6,63.2 505.0,62.6C507.4,62.0 510.4,61.4 512.1,61.3C513.8,61.2 518.0,61.5 520.0,61.6C522.0,61.7 527.5,62.4 530.0,62.6C532.5,62.8 539.4,62.9 542.7,63.4C546.0,63.9 555.7,65.7 559.4,66.7C563.1,67.7 572.4,71.0 576.1,72.0C579.8,73.0 589.1,75.0 592.8,75.9C596.5,76.8 605.4,79.0 609.5,80.1C613.6,81.2 625.1,84.5 629.6,85.4C634.1,86.3 645.1,87.2 649.6,88.3C654.1,89.4 664.8,93.3 670.0,95.0C675.2,96.7 690.6,101.9 696.0,103.5C701.4,105.1 713.2,108.5 719.0,109.7C724.8,110.9 742.2,113.1 748.6,114.1C755.0,115.1 771.2,118.0 777.0,118.8C782.8,119.6 795.8,121.1 800.4,121.3C805.0,121.5 814.3,120.7 818.0,120.3C821.7,119.9 830.8,117.8 833.8,117.3C836.8,116.8 842.0,116.1 845.1,115.7C848.2,115.3 857.4,114.2 861.8,114.1C866.2,114.0 881.4,114.4 884.3,114.6C887.2,114.8 885.6,114.1 887.7,115.7C889.8,117.3 899.9,126.3 903.5,129.1C907.1,131.9 917.0,138.5 920.3,140.8C923.6,143.1 926.8,145.2 933.5,150.0C940.2,154.8 971.0,178.0 980.3,184.3C989.6,190.6 1011.2,202.6 1017.0,206.8C1022.8,211.0 1028.6,218.4 1032.9,222.0C1037.2,225.6 1052.9,237.5 1055.4,239.4" fill="none" stroke="#2244ff" stroke-width="1.1"/>
</g>
<line x1="1.9" x2="1078" y1="257" y2="257" stroke="#000" stroke-width="2" stroke-dasharray="5.6 4.4" clip-path="url(#cp)"/>
<line x1="1.9" x2="1078" y1="304" y2="304" stroke="#000" stroke-width="2" stroke-dasharray="5.6 4.4" clip-path="url(#cp)"/>
<line x1="2.5" x2="1076" y1="274.5" y2="274.5" stroke="#2e4a73" stroke-width="1"/>
<clipPath id="cm"><rect x="2.5" y="329.5" width="1076" height="23"/></clipPath>
<g clip-path="url(#cm)">
<rect x="0.0" y="338.60" width="2.6" height="0.70" fill="#00f000"/>
<rect x="4.0" y="338.60" width="2.6" height="0.70" fill="#00f000"/>
<rect x="7.0" y="339.30" width="2.6" height="0.70" fill="#ff0000"/>
<rect x="11.0" y="339.30" width="2.6" height="0.70" fill="#ff0000"/>
<rect x="14.0" y="339.30" width="2.6" height="1.24" fill="#ff0000"/>
<rect x="17.0" y="339.30" width="2.6" height="1.48" fill="#ff0000"/>
<rect x="21.0" y="339.30" width="2.6" height="1.50" fill="#ff0000"/>
<rect x="24.0" y="339.30" width="2.6" height="1.33" fill="#ff0000"/>
<rect x="27.0" y="339.30" width="2.6" height="1.04" fill="#ff0000"/>
<rect x="31.0" y="339.30" width="2.6" height="0.98" fill="#ff0000"/>
<rect x="34.0" y="339.30" width="2.6" height="1.00" fill="#ff0000"/>
<rect x="37.0" y="339.30" width="2.6" height="0.89" fill="#ff0000"/>
<rect x="41.0" y="339.30" width="2.6" height="0.79" fill="#ff0000"/>
<rect x="44.0" y="339.30" width="2.6" height="0.71" fill="#ff0000"/>
<rect x="47.0" y="339.30" width="2.6" height="0.70" fill="#ff0000"/>
<rect x="51.0" y="339.30" width="2.6" height="0.70" fill="#ff0000"/>
<rect x="54.0" y="339.30" width="2.6" height="0.70" fill="#ff0000"/>
<rect x="58.0" y="339.30" width="2.6" height="0.70" fill="#ff0000"/>
<rect x="61.0" y="338.60" width="2.6" height="0.70" fill="#00f000"/>
<rect x="64.0" y="338.60" width="2.6" height="0.70" fill="#00f000"/>
<rect x="68.0" y="338.60" width="2.6" height="0.70" fill="#00f000"/>
<rect x="71.0" y="338.60" width="2.6" height="0.70" fill="#00f000"/>
<rect x="74.0" y="338.60" width="2.6" height="0.70" fill="#00f000"/>
<rect x="78.0" y="339.30" width="2.6" height="0.70" fill="#ff0000"/>
<rect x="81.0" y="339.30" width="2.6" height="0.70" fill="#ff0000"/>
<rect x="84.0" y="339.30" width="2.6" height="0.70" fill="#ff0000"/>
<rect x="88.0" y="339.30" width="2.6" height="0.70" fill="#ff0000"/>
<rect x="91.0" y="339.30" width="2.6" height="0.70" fill="#ff0000"/>
<rect x="94.0" y="339.30" width="2.6" height="0.70" fill="#ff0000"/>
<rect x="98.0" y="338.60" width="2.6" height="0.70" fill="#00f000"/>
<rect x="101.0" y="338.60" width="2.6" height="0.70" fill="#00f000"/>
<rect x="105.0" y="338.60" width="2.6" height="0.70" fill="#00f000"/>
<rect x="108.0" y="338.60" width="2.6" height="0.70" fill="#00f000"/>
<rect x="111.0" y="338.60" width="2.6" height="0.70" fill="#00f000"/>
<rect x="115.0" y="338.60" width="2.6" height="0.70" fill="#00f000"/>
<rect x="118.0" y="338.60" width="2.6" height="0.70" fill="#00f000"/>
<rect x="121.0" y="338.60" width="2.6" height="0.70" fill="#00f000"/>
<rect x="125.0" y="338.60" width="2.6" height="0.70" fill="#00f000"/>
<rect x="128.0" y="338.60" width="2.6" height="0.70" fill="#00f000"/>
<rect x="131.0" y="338.60" width="2.6" height="0.70" fill="#00f000"/>
<rect x="135.0" y="338.60" width="2.6" height="0.70" fill="#00f000"/>
<rect x="138.0" y="338.47" width="2.6" height="0.83" fill="#00f000"/>
<rect x="141.0" y="338.34" width="2.6" height="0.96" fill="#00f000"/>
<rect x="145.0" y="338.28" width="2.6" height="1.02" fill="#00f000"/>
<rect x="148.0" y="338.41" width="2.6" height="0.89" fill="#00f000"/>
<rect x="151.0" y="338.52" width="2.6" height="0.78" fill="#00f000"/>
<rect x="155.0" y="338.44" width="2.6" height="0.86" fill="#00f000"/>
<rect x="158.0" y="338.60" width="2.6" height="0.70" fill="#00f000"/>
<rect x="162.0" y="338.60" width="2.6" height="0.70" fill="#00f000"/>
<rect x="165.0" y="338.60" width="2.6" height="0.70" fill="#00f000"/>
<rect x="168.0" y="338.60" width="2.6" height="0.70" fill="#00f000"/>
<rect x="172.0" y="339.30" width="2.6" height="0.70" fill="#ff0000"/>
<rect x="175.0" y="339.30" width="2.6" height="0.70" fill="#ff0000"/>
<rect x="178.0" y="339.30" width="2.6" height="0.70" fill="#ff0000"/>
<rect x="182.0" y="339.30" width="2.6" height="0.72" fill="#ff0000"/>
<rect x="185.0" y="339.30" width="2.6" height="0.83" fill="#ff0000"/>
<rect x="188.0" y="339.30" width="2.6" height="0.70" fill="#ff0000"/>
<rect x="192.0" y="339.30" width="2.6" height="0.70" fill="#ff0000"/>
<rect x="195.0" y="339.30" width="2.6" height="0.70" fill="#ff0000"/>
<rect x="198.0" y="339.30" width="2.6" height="1.41" fill="#ff0000"/>
<rect x="202.0" y="339.30" width="2.6" height="1.77" fill="#ff0000"/>
<rect x="205.0" y="339.30" width="2.6" height="2.17" fill="#ff0000"/>
<rect x="209.0" y="339.30" width="2.6" height="2.23" fill="#ff0000"/>
<rect x="212.0" y="339.30" width="2.6" height="2.12" fill="#ff0000"/>
<rect x="215.0" y="339.30" width="2.6" height="1.82" fill="#ff0000"/>
<rect x="219.0" y="339.30" width="2.6" height="1.38" fill="#ff0000"/>
<rect x="222.0" y="339.30" width="2.6" height="1.15" fill="#ff0000"/>
<rect x="225.0" y="339.30" width="2.6" height="0.78" fill="#ff0000"/>
<rect x="229.0" y="339.30" width="2.6" height="0.70" fill="#ff0000"/>
<rect x="232.0" y="339.30" width="2.6" height="0.70" fill="#ff0000"/>
<rect x="235.0" y="338.60" width="2.6" height="0.70" fill="#00f000"/>
<rect x="239.0" y="338.60" width="2.6" height="0.70" fill="#00f000"/>
<rect x="242.0" y="338.60" width="2.6" height="0.70" fill="#00f000"/>
<rect x="245.0" y="338.60" width="2.6" height="0.70" fill="#00f000"/>
<rect x="249.0" y="338.53" width="2.6" height="0.77" fill="#00f000"/>
<rect x="252.0" y="338.32" width="2.6" height="0.98" fill="#00f000"/>
<rect x="255.0" y="338.42" width="2.6" height="0.88" fill="#00f000"/>
<rect x="259.0" y="338.47" width="2.6" height="0.83" fill="#00f000"/>
<rect x="262.0" y="338.60" width="2.6" height="0.70" fill="#00f000"/>
<rect x="266.0" y="338.60" width="2.6" height="0.70" fill="#00f000"/>
<rect x="269.0" y="338.60" width="2.6" height="0.70" fill="#00f000"/>
<rect x="272.0" y="338.60" width="2.6" height="0.70" fill="#00f000"/>
<rect x="276.0" y="338.60" width="2.6" height="0.70" fill="#00f000"/>
<rect x="279.0" y="338.33" width="2.6" height="0.97" fill="#00f000"/>
<rect x="282.0" y="338.04" width="2.6" height="1.26" fill="#00f000"/>
<rect x="286.0" y="337.89" width="2.6" height="1.41" fill="#00f000"/>
<rect x="289.0" y="337.94" width="2.6" height="1.36" fill="#00f000"/>
<rect x="292.0" y="338.05" width="2.6" height="1.25" fill="#00f000"/>
<rect x="296.0" y="338.08" width="2.6" height="1.22" fill="#00f000"/>
<rect x="299.0" y="337.99" width="2.6" height="1.31" fill="#00f000"/>
<rect x="302.0" y="338.12" width="2.6" height="1.18" fill="#00f000"/>
<rect x="306.0" y="338.33" width="2.6" height="0.97" fill="#00f000"/>
<rect x="309.0" y="338.49" width="2.6" height="0.81" fill="#00f000"/>
<rect x="313.0" y="338.60" width="2.6" height="0.70" fill="#00f000"/>
<rect x="316.0" y="338.60" width="2.6" height="0.70" fill="#00f000"/>
<rect x="319.0" y="338.60" width="2.6" height="0.70" fill="#00f000"/>
<rect x="323.0" y="338.60" width="2.6" height="0.70" fill="#00f000"/>
<rect x="326.0" y="339.30" width="2.6" height="0.70" fill="#ff0000"/>
<rect x="329.0" y="339.30" width="2.6" height="0.70" fill="#ff0000"/>
<rect x="333.0" y="339.30" width="2.6" height="0.70" fill="#ff0000"/>
<rect x="336.0" y="339.30" width="2.6" height="0.70" fill="#ff0000"/>
<rect x="339.0" y="339.30" width="2.6" height="0.70" fill="#ff0000"/>
<rect x="343.0" y="339.30" width="2.6" height="0.70" fill="#ff0000"/>
<rect x="346.0" y="338.20" width="2.6" height="1.10" fill="#00f000"/>
<rect x="349.0" y="337.56" width="2.6" height="1.74" fill="#00f000"/>
<rect x="353.0" y="337.55" width="2.6" height="1.75" fill="#00f000"/>
<rect x="356.0" y="337.39" width="2.6" height="1.91" fill="#00f000"/>
<rect x="360.0" y="337.54" width="2.6" height="1.76" fill="#00f000"/>
<rect x="363.0" y="337.62" width="2.6" height="1.68" fill="#00f000"/>
<rect x="366.0" y="337.60" width="2.6" height="1.70" fill="#00f000"/>
<rect x="370.0" y="337.44" width="2.6" height="1.86" fill="#00f000"/>
<rect x="373.0" y="337.53" width="2.6" height="1.77" fill="#00f000"/>
<rect x="376.0" y="337.80" width="2.6" height="1.50" fill="#00f000"/>
<rect x="380.0" y="338.15" width="2.6" height="1.15" fill="#00f000"/>
<rect x="383.0" y="338.30" width="2.6" height="1.00" fill="#00f000"/>
<rect x="386.0" y="338.27" width="2.6" height="1.03" fill="#00f000"/>
<rect x="390.0" y="338.38" width="2.6" height="0.92" fill="#00f000"/>
<rect x="393.0" y="338.09" width="2.6" height="1.21" fill="#00f000"/>
<rect x="396.0" y="337.93" width="2.6" height="1.37" fill="#00f000"/>
<rect x="400.0" y="338.25" width="2.6" height="1.05" fill="#00f000"/>
<rect x="403.0" y="338.60" width="2.6" height="0.70" fill="#00f000"/>
<rect x="406.0" y="338.60" width="2.6" height="0.70" fill="#00f000"/>
<rect x="410.0" y="339.30" width="2.6" height="0.70" fill="#ff0000"/>
<rect x="413.0" y="339.30" width="2.6" height="0.70" fill="#ff0000"/>
<rect x="417.0" y="339.30" width="2.6" height="1.01" fill="#ff0000"/>
<rect x="420.0" y="339.30" width="2.6" height="1.37" fill="#ff0000"/>
<rect x="423.0" y="339.30" width="2.6" height="1.47" fill="#ff0000"/>
<rect x="427.0" y="339.30" width="2.6" height="1.43" fill="#ff0000"/>
<rect x="430.0" y="339.30" width="2.6" height="1.67" fill="#ff0000"/>
<rect x="433.0" y="339.30" width="2.6" height="1.84" fill="#ff0000"/>
<rect x="437.0" y="339.30" width="2.6" height="1.59" fill="#ff0000"/>
<rect x="440.0" y="339.30" width="2.6" height="1.52" fill="#ff0000"/>
<rect x="443.0" y="339.30" width="2.6" height="1.45" fill="#ff0000"/>
<rect x="447.0" y="339.30" width="2.6" height="1.21" fill="#ff0000"/>
<rect x="450.0" y="339.30" width="2.6" height="1.13" fill="#ff0000"/>
<rect x="453.0" y="339.30" width="2.6" height="1.06" fill="#ff0000"/>
<rect x="457.0" y="339.30" width="2.6" height="1.17" fill="#ff0000"/>
<rect x="460.0" y="339.30" width="2.6" height="1.13" fill="#ff0000"/>
<rect x="464.0" y="339.30" width="2.6" height="1.30" fill="#ff0000"/>
<rect x="467.0" y="339.30" width="2.6" height="1.98" fill="#ff0000"/>
<rect x="470.0" y="339.30" width="2.6" height="2.25" fill="#ff0000"/>
<rect x="474.0" y="339.30" width="2.6" height="2.18" fill="#ff0000"/>
<rect x="477.0" y="339.30" width="2.6" height="1.98" fill="#ff0000"/>
<rect x="480.0" y="339.30" width="2.6" height="1.77" fill="#ff0000"/>
<rect x="484.0" y="339.30" width="2.6" height="1.39" fill="#ff0000"/>
<rect x="487.0" y="339.30" width="2.6" height="1.22" fill="#ff0000"/>
<rect x="490.0" y="339.30" width="2.6" height="0.94" fill="#ff0000"/>
<rect x="494.0" y="339.30" width="2.6" height="0.70" fill="#ff0000"/>
<rect x="497.0" y="339.30" width="2.6" height="0.70" fill="#ff0000"/>
<rect x="500.0" y="339.30" width="2.6" height="0.70" fill="#ff0000"/>
<rect x="504.0" y="339.30" width="2.6" height="0.70" fill="#ff0000"/>
<rect x="507.0" y="339.30" width="2.6" height="0.70" fill="#ff0000"/>
<rect x="510.0" y="339.30" width="2.6" height="0.70" fill="#ff0000"/>
<rect x="514.0" y="339.30" width="2.6" height="0.70" fill="#ff0000"/>
<rect x="517.0" y="338.60" width="2.6" height="0.70" fill="#00f000"/>
<rect x="521.0" y="338.60" width="2.6" height="0.70" fill="#00f000"/>
<rect x="524.0" y="338.60" width="2.6" height="0.70" fill="#00f000"/>
<rect x="527.0" y="338.60" width="2.6" height="0.70" fill="#00f000"/>
<rect x="531.0" y="338.60" width="2.6" height="0.70" fill="#00f000"/>
<rect x="534.0" y="338.60" width="2.6" height="0.70" fill="#00f000"/>
<rect x="537.0" y="338.60" width="2.6" height="0.70" fill="#00f000"/>
<rect x="541.0" y="338.60" width="2.6" height="0.70" fill="#00f000"/>
<rect x="544.0" y="338.60" width="2.6" height="0.70" fill="#00f000"/>
<rect x="547.0" y="338.60" width="2.6" height="0.70" fill="#00f000"/>
<rect x="551.0" y="338.60" width="2.6" height="0.70" fill="#00f000"/>
<rect x="554.0" y="338.60" width="2.6" height="0.70" fill="#00f000"/>
<rect x="557.0" y="338.60" width="2.6" height="0.70" fill="#00f000"/>
<rect x="561.0" y="338.60" width="2.6" height="0.70" fill="#00f000"/>
<rect x="564.0" y="338.60" width="2.6" height="0.70" fill="#00f000"/>
<rect x="568.0" y="338.60" width="2.6" height="0.70" fill="#00f000"/>
<rect x="571.0" y="338.60" width="2.6" height="0.70" fill="#00f000"/>
<rect x="574.0" y="338.60" width="2.6" height="0.70" fill="#00f000"/>
<rect x="578.0" y="339.30" width="2.6" height="0.70" fill="#ff0000"/>
<rect x="581.0" y="339.30" width="2.6" height="0.70" fill="#ff0000"/>
<rect x="584.0" y="339.30" width="2.6" height="0.70" fill="#ff0000"/>
<rect x="588.0" y="339.30" width="2.6" height="0.70" fill="#ff0000"/>
<rect x="591.0" y="339.30" width="2.6" height="0.70" fill="#ff0000"/>
<rect x="594.0" y="339.30" width="2.6" height="0.70" fill="#ff0000"/>
<rect x="598.0" y="339.30" width="2.6" height="0.70" fill="#ff0000"/>
<rect x="601.0" y="339.30" width="2.6" height="0.70" fill="#ff0000"/>
<rect x="604.0" y="339.30" width="2.6" height="0.70" fill="#ff0000"/>
<rect x="608.0" y="339.30" width="2.6" height="0.70" fill="#ff0000"/>
<rect x="611.0" y="339.30" width="2.6" height="0.70" fill="#ff0000"/>
<rect x="614.0" y="339.30" width="2.6" height="0.72" fill="#ff0000"/>
<rect x="618.0" y="339.30" width="2.6" height="0.71" fill="#ff0000"/>
<rect x="621.0" y="339.30" width="2.6" height="0.70" fill="#ff0000"/>
<rect x="625.0" y="339.30" width="2.6" height="0.70" fill="#ff0000"/>
<rect x="628.0" y="339.30" width="2.6" height="0.70" fill="#ff0000"/>
<rect x="631.0" y="339.30" width="2.6" height="0.70" fill="#ff0000"/>
<rect x="635.0" y="339.30" width="2.6" height="0.70" fill="#ff0000"/>
<rect x="638.0" y="339.30" width="2.6" height="0.70" fill="#ff0000"/>
<rect x="641.0" y="339.30" width="2.6" height="0.70" fill="#ff0000"/>
<rect x="645.0" y="339.30" width="2.6" height="0.70" fill="#ff0000"/>
<rect x="648.0" y="339.30" width="2.6" height="0.70" fill="#ff0000"/>
<rect x="651.0" y="339.30" width="2.6" height="0.70" fill="#ff0000"/>
<rect x="655.0" y="339.30" width="2.6" height="1.14" fill="#ff0000"/>
<rect x="658.0" y="339.30" width="2.6" height="1.28" fill="#ff0000"/>
<rect x="661.0" y="339.30" width="2.6" height="1.31" fill="#ff0000"/>
<rect x="665.0" y="339.30" width="2.6" height="1.24" fill="#ff0000"/>
<rect x="668.0" y="339.30" width="2.6" height="0.98" fill="#ff0000"/>
<rect x="672.0" y="339.30" width="2.6" height="0.79" fill="#ff0000"/>
<rect x="675.0" y="339.30" width="2.6" height="0.70" fill="#ff0000"/>
<rect x="678.0" y="339.30" width="2.6" height="0.70" fill="#ff0000"/>
<rect x="682.0" y="339.30" width="2.6" height="0.70" fill="#ff0000"/>
<rect x="685.0" y="339.30" width="2.6" height="0.70" fill="#ff0000"/>
<rect x="688.0" y="339.30" width="2.6" height="0.70" fill="#ff0000"/>
<rect x="692.0" y="339.30" width="2.6" height="0.70" fill="#ff0000"/>
<rect x="695.0" y="338.60" width="2.6" height="0.70" fill="#00f000"/>
<rect x="698.0" y="338.60" width="2.6" height="0.70" fill="#00f000"/>
<rect x="702.0" y="338.53" width="2.6" height="0.77" fill="#00f000"/>
<rect x="705.0" y="338.42" width="2.6" height="0.88" fill="#00f000"/>
<rect x="708.0" y="338.53" width="2.6" height="0.77" fill="#00f000"/>
<rect x="712.0" y="338.60" width="2.6" height="0.70" fill="#00f000"/>
<rect x="715.0" y="338.60" width="2.6" height="0.70" fill="#00f000"/>
<rect x="719.0" y="337.78" width="2.6" height="1.52" fill="#00f000"/>
<rect x="722.0" y="337.56" width="2.6" height="1.74" fill="#00f000"/>
<rect x="725.0" y="337.39" width="2.6" height="1.91" fill="#00f000"/>
<rect x="729.0" y="337.36" width="2.6" height="1.94" fill="#00f000"/>
<rect x="732.0" y="337.38" width="2.6" height="1.92" fill="#00f000"/>
<rect x="735.0" y="337.39" width="2.6" height="1.91" fill="#00f000"/>
<rect x="739.0" y="337.52" width="2.6" height="1.78" fill="#00f000"/>
<rect x="742.0" y="337.82" width="2.6" height="1.48" fill="#00f000"/>
<rect x="745.0" y="338.17" width="2.6" height="1.13" fill="#00f000"/>
<rect x="749.0" y="338.59" width="2.6" height="0.71" fill="#00f000"/>
<rect x="752.0" y="338.60" width="2.6" height="0.70" fill="#00f000"/>
<rect x="755.0" y="339.30" width="2.6" height="0.70" fill="#ff0000"/>
<rect x="759.0" y="339.30" width="2.6" height="0.70" fill="#ff0000"/>
<rect x="762.0" y="339.30" width="2.6" height="0.70" fill="#ff0000"/>
<rect x="765.0" y="339.30" width="2.6" height="0.70" fill="#ff0000"/>
<rect x="769.0" y="339.30" width="2.6" height="0.70" fill="#ff0000"/>
<rect x="772.0" y="339.30" width="2.6" height="0.70" fill="#ff0000"/>
<rect x="776.0" y="339.30" width="2.6" height="0.70" fill="#ff0000"/>
<rect x="779.0" y="338.60" width="2.6" height="0.70" fill="#00f000"/>
<rect x="782.0" y="339.30" width="2.6" height="0.70" fill="#ff0000"/>
<rect x="786.0" y="339.30" width="2.6" height="0.70" fill="#ff0000"/>
<rect x="789.0" y="339.30" width="2.6" height="0.70" fill="#ff0000"/>
<rect x="792.0" y="339.30" width="2.6" height="0.70" fill="#ff0000"/>
<rect x="796.0" y="339.30" width="2.6" height="0.70" fill="#ff0000"/>
<rect x="799.0" y="339.30" width="2.6" height="0.70" fill="#ff0000"/>
<rect x="802.0" y="338.60" width="2.6" height="0.70" fill="#00f000"/>
<rect x="806.0" y="338.60" width="2.6" height="0.70" fill="#00f000"/>
<rect x="809.0" y="338.60" width="2.6" height="0.70" fill="#00f000"/>
<rect x="812.0" y="338.60" width="2.6" height="0.70" fill="#00f000"/>
<rect x="816.0" y="338.60" width="2.6" height="0.70" fill="#00f000"/>
<rect x="819.0" y="338.60" width="2.6" height="0.70" fill="#00f000"/>
<rect x="823.0" y="338.60" width="2.6" height="0.70" fill="#00f000"/>
<rect x="826.0" y="338.60" width="2.6" height="0.70" fill="#00f000"/>
<rect x="829.0" y="338.60" width="2.6" height="0.70" fill="#00f000"/>
<rect x="833.0" y="338.60" width="2.6" height="0.70" fill="#00f000"/>
<rect x="836.0" y="339.30" width="2.6" height="0.70" fill="#ff0000"/>
<rect x="839.0" y="339.30" width="2.6" height="0.70" fill="#ff0000"/>
<rect x="843.0" y="339.30" width="2.6" height="0.70" fill="#ff0000"/>
<rect x="846.0" y="339.30" width="2.6" height="0.70" fill="#ff0000"/>
<rect x="849.0" y="339.30" width="2.6" height="0.70" fill="#ff0000"/>
<rect x="853.0" y="339.30" width="2.6" height="0.70" fill="#ff0000"/>
<rect x="856.0" y="339.30" width="2.6" height="0.70" fill="#ff0000"/>
<rect x="859.0" y="339.30" width="2.6" height="0.83" fill="#ff0000"/>
<rect x="863.0" y="339.30" width="2.6" height="1.07" fill="#ff0000"/>
<rect x="866.0" y="339.30" width="2.6" height="1.10" fill="#ff0000"/>
<rect x="869.0" y="339.30" width="2.6" height="1.29" fill="#ff0000"/>
<rect x="873.0" y="339.30" width="2.6" height="1.18" fill="#ff0000"/>
<rect x="876.0" y="339.30" width="2.6" height="1.02" fill="#ff0000"/>
<rect x="880.0" y="339.30" width="2.6" height="0.89" fill="#ff0000"/>
<rect x="883.0" y="339.30" width="2.6" height="0.74" fill="#ff0000"/>
<rect x="886.0" y="339.30" width="2.6" height="0.81" fill="#ff0000"/>
<rect x="890.0" y="339.30" width="2.6" height="3.31" fill="#ff0000"/>
<rect x="893.0" y="339.30" width="2.6" height="4.21" fill="#ff0000"/>
<rect x="896.0" y="339.30" width="2.6" height="4.41" fill="#ff0000"/>
<rect x="900.0" y="339.30" width="2.6" height="4.39" fill="#ff0000"/>
<rect x="903.0" y="339.30" width="2.6" height="3.88" fill="#ff0000"/>
<rect x="906.0" y="339.30" width="2.6" height="3.02" fill="#ff0000"/>
<rect x="910.0" y="339.30" width="2.6" height="2.58" fill="#ff0000"/>
<rect x="913.0" y="339.30" width="2.6" height="2.02" fill="#ff0000"/>
<rect x="916.0" y="339.30" width="2.6" height="1.51" fill="#ff0000"/>
<rect x="920.0" y="339.30" width="2.6" height="1.30" fill="#ff0000"/>
<rect x="923.0" y="339.30" width="2.6" height="1.38" fill="#ff0000"/>
<rect x="927.0" y="339.30" width="2.6" height="1.09" fill="#ff0000"/>
<rect x="930.0" y="339.30" width="2.6" height="0.70" fill="#ff0000"/>
<rect x="933.0" y="338.60" width="2.6" height="0.70" fill="#00f000"/>
<rect x="937.0" y="338.53" width="2.6" height="0.77" fill="#00f000"/>
<rect x="940.0" y="338.26" width="2.6" height="1.04" fill="#00f000"/>
<rect x="943.0" y="337.92" width="2.6" height="1.38" fill="#00f000"/>
<rect x="947.0" y="337.63" width="2.6" height="1.67" fill="#00f000"/>
<rect x="950.0" y="337.52" width="2.6" height="1.78" fill="#00f000"/>
<rect x="953.0" y="337.80" width="2.6" height="1.50" fill="#00f000"/>
<rect x="957.0" y="337.87" width="2.6" height="1.43" fill="#00f000"/>
<rect x="960.0" y="337.95" width="2.6" height="1.35" fill="#00f000"/>
<rect x="963.0" y="337.97" width="2.6" height="1.33" fill="#00f000"/>
<rect x="967.0" y="338.19" width="2.6" height="1.11" fill="#00f000"/>
<rect x="970.0" y="338.23" width="2.6" height="1.07" fill="#00f000"/>
<rect x="974.0" y="338.21" width="2.6" height="1.09" fill="#00f000"/>
<rect x="977.0" y="338.23" width="2.6" height="1.07" fill="#00f000"/>
<rect x="980.0" y="338.00" width="2.6" height="1.30" fill="#00f000"/>
<rect x="984.0" y="337.33" width="2.6" height="1.97" fill="#00f000"/>
<rect x="987.0" y="337.21" width="2.6" height="2.09" fill="#00f000"/>
<rect x="990.0" y="337.11" width="2.6" height="2.19" fill="#00f000"/>
<rect x="994.0" y="337.02" width="2.6" height="2.28" fill="#00f000"/>
<rect x="997.0" y="337.11" width="2.6" height="2.19" fill="#00f000"/>
<rect x="1000.0" y="337.28" width="2.6" height="2.02" fill="#00f000"/>
<rect x="1004.0" y="337.48" width="2.6" height="1.82" fill="#00f000"/>
<rect x="1007.0" y="337.71" width="2.6" height="1.59" fill="#00f000"/>
<rect x="1010.0" y="337.98" width="2.6" height="1.32" fill="#00f000"/>
<rect x="1014.0" y="338.15" width="2.6" height="1.15" fill="#00f000"/>
<rect x="1017.0" y="338.60" width="2.6" height="0.70" fill="#00f000"/>
<rect x="1020.0" y="339.30" width="2.6" height="1.07" fill="#ff0000"/>
<rect x="1024.0" y="339.30" width="2.6" height="2.07" fill="#ff0000"/>
<rect x="1027.0" y="339.30" width="2.6" height="2.25" fill="#ff0000"/>
<rect x="1031.0" y="339.30" width="2.6" height="2.16" fill="#ff0000"/>
<rect x="1034.0" y="339.30" width="2.6" height="1.79" fill="#ff0000"/>
<rect x="1037.0" y="339.30" width="2.6" height="1.38" fill="#ff0000"/>
<rect x="1041.0" y="339.30" width="2.6" height="1.14" fill="#ff0000"/>
<rect x="1044.0" y="339.30" width="2.6" height="0.87" fill="#ff0000"/>
<rect x="1047.0" y="339.30" width="2.6" height="0.76" fill="#ff0000"/>
<rect x="1051.0" y="339.30" width="2.6" height="0.70" fill="#ff0000"/>
<rect x="1054.0" y="339.30" width="2.6" height="0.70" fill="#ff0000"/>
<polyline points="2.0,336.63 5.4,336.62 8.7,336.68 12.1,336.83 15.4,337.18 18.8,337.59 22.1,338.01 25.5,338.37 28.8,338.66 32.2,338.94 35.5,339.21 38.9,339.46 42.3,339.68 45.6,339.88 49.0,340.04 52.3,340.18 55.7,340.25 59.0,340.30 62.4,340.27 65.7,340.17 69.1,340.13 72.5,340.11 75.8,340.09 79.2,340.12 82.5,340.21 85.9,340.30 89.2,340.36 92.6,340.41 95.9,340.41 99.3,340.40 102.7,340.38 106.0,340.35 109.4,340.32 112.7,340.30 116.1,340.27 119.4,340.22 122.8,340.16 126.1,340.10 129.5,340.05 132.8,339.98 136.2,339.81 139.6,339.58 142.9,339.32 146.3,339.03 149.6,338.78 153.0,338.57 156.3,338.33 159.7,338.15 163.0,338.01 166.4,337.96 169.8,337.95 173.1,338.00 176.5,338.13 179.8,338.32 183.2,338.52 186.5,338.75 189.9,338.93 193.2,339.08 196.6,339.25 200.0,339.64 203.3,340.13 206.7,340.74 210.0,341.36 213.4,341.95 216.7,342.45 220.1,342.83 223.4,343.15 226.8,343.37 230.1,343.50 233.5,343.54 236.9,343.51 240.2,343.46 243.6,343.40 246.9,343.28 250.3,343.06 253.6,342.79 257.0,342.55 260.3,342.32 263.7,342.15 267.1,342.05 270.4,341.93 273.8,341.79 277.1,341.65 280.5,341.38 283.8,341.03 287.2,340.64 290.5,340.26 293.9,339.91 297.3,339.58 300.6,339.21 304.0,338.89 307.3,338.62 310.7,338.39 314.0,338.21 317.4,338.07 320.7,337.97 324.1,337.95 327.5,337.97 330.8,338.06 334.2,338.17 337.5,338.28 340.9,338.34 344.2,338.43 347.6,338.13 350.9,337.65 354.3,337.16 357.6,336.63 361.0,336.14 364.4,335.68 367.7,335.20 371.1,334.69 374.4,334.20 377.8,333.78 381.1,333.46 384.5,333.18 387.8,332.90 391.2,332.64 394.6,332.30 397.9,331.92 401.3,331.63 404.6,331.44 408.0,331.29 411.3,331.33 414.7,331.52 418.0,331.80 421.4,332.18 424.8,332.58 428.1,332.98 431.5,333.44 434.8,333.95 438.2,334.40 441.5,334.82 444.9,335.22 448.2,335.55 451.6,335.87 454.9,336.16 458.3,336.49 461.7,336.80 465.0,337.16 468.4,337.71 471.7,338.34 475.1,338.94 478.4,339.49 481.8,339.99 485.1,340.37 488.5,340.71 491.9,340.97 495.2,341.16 498.6,341.30 501.9,341.42 505.3,341.52 508.6,341.59 512.0,341.66 515.3,341.70 518.7,341.67 522.1,341.63 525.4,341.53 528.8,341.41 532.1,341.29 535.5,341.18 538.8,341.10 542.2,341.00 545.5,340.92 548.9,340.82 552.2,340.71 555.6,340.64 559.0,340.54 562.3,340.39 565.7,340.24 569.0,340.09 572.4,339.96 575.7,339.89 579.1,339.89 582.4,339.93 585.8,339.99 589.2,340.04 592.5,340.12 595.9,340.20 599.2,340.26 602.6,340.31 605.9,340.35 609.3,340.40 612.6,340.50 616.0,340.70 619.4,340.90 622.7,341.04 626.1,341.12 629.4,341.14 632.8,341.15 636.1,341.15 639.5,341.19 642.8,341.29 646.2,341.41 649.5,341.54 652.9,341.71 656.3,342.02 659.6,342.38 663.0,342.74 666.3,343.09 669.7,343.36 673.0,343.58 676.4,343.71 679.7,343.83 683.1,343.92 686.5,344.01 689.8,344.06 693.2,344.07 696.5,344.03 699.9,343.88 703.2,343.66 706.6,343.42 709.9,343.20 713.3,343.02 716.7,342.85 720.0,342.42 723.4,341.94 726.7,341.41 730.1,340.87 733.4,340.34 736.8,339.81 740.1,339.31 743.5,338.90 746.9,338.59 750.2,338.39 753.6,338.28 756.9,338.31 760.3,338.41 763.6,338.51 767.0,338.61 770.3,338.70 773.7,338.76 777.0,338.84 780.4,338.84 783.8,338.87 787.1,338.93 790.5,338.97 793.8,338.99 797.2,339.04 800.5,339.05 803.9,338.98 807.2,338.88 810.6,338.77 814.0,338.59 817.3,338.44 820.7,338.33 824.0,338.26 827.4,338.24 830.7,338.19 834.1,338.17 837.4,338.20 840.8,338.24 844.2,338.35 847.5,338.51 850.9,338.70 854.2,338.90 857.6,339.09 860.9,339.31 864.3,339.61 867.6,339.92 871.0,340.28 874.3,340.61 877.7,340.89 881.1,341.14 884.4,341.34 887.8,341.57 891.1,342.49 894.5,343.66 897.8,344.88 901.2,346.10 904.5,347.18 907.9,348.02 911.3,348.74 914.6,349.30 918.0,349.72 921.3,350.08 924.7,350.46 928.0,350.76 931.4,350.88 934.7,350.80 938.1,350.59 941.5,350.30 944.8,349.91 948.2,349.45 951.5,348.96 954.9,348.54 958.2,348.14 961.6,347.77 964.9,347.40 968.3,347.09 971.6,346.79 975.0,346.49 978.4,346.19 981.7,345.83 985.1,345.28 988.4,344.70 991.8,344.09 995.1,343.46 998.5,342.85 1001.8,342.29 1005.2,341.79 1008.6,341.35 1011.9,340.98 1015.3,340.66 1018.6,340.55 1022.0,340.85 1025.3,341.42 1028.7,342.05 1032.0,342.65 1035.4,343.14 1038.8,343.53 1042.1,343.85 1045.5,344.09 1048.8,344.30 1052.2,344.45 1055.5,344.55" fill="none" stroke="#f07820" stroke-width="1.2"/>
<polyline points="2.0,336.29 5.4,336.61 8.7,336.91 12.1,337.45 15.4,338.55 18.8,339.24 22.1,339.67 25.5,339.85 28.8,339.82 32.2,340.03 35.5,340.32 38.9,340.45 42.3,340.56 45.6,340.67 49.0,340.70 52.3,340.73 55.7,340.53 59.0,340.48 62.4,340.19 65.7,339.76 69.1,339.95 72.5,340.04 75.8,340.01 79.2,340.23 82.5,340.60 85.9,340.64 89.2,340.62 92.6,340.58 95.9,340.42 99.3,340.35 102.7,340.32 106.0,340.21 109.4,340.23 112.7,340.22 116.1,340.14 119.4,340.04 122.8,339.91 126.1,339.87 129.5,339.84 132.8,339.71 136.2,339.15 139.6,338.66 142.9,338.25 146.3,337.90 149.6,337.79 153.0,337.70 156.3,337.38 159.7,337.44 163.0,337.45 166.4,337.73 169.8,337.94 173.1,338.17 176.5,338.66 179.8,339.06 183.2,339.32 186.5,339.68 189.9,339.66 193.2,339.67 196.6,339.94 200.0,341.21 203.3,342.10 206.7,343.15 210.0,343.84 213.4,344.30 216.7,344.47 220.1,344.36 223.4,344.43 226.8,344.24 230.1,344.01 233.5,343.72 236.9,343.39 240.2,343.25 243.6,343.14 246.9,342.80 250.3,342.20 253.6,341.70 257.0,341.57 260.3,341.39 263.7,341.49 267.1,341.63 270.4,341.47 273.8,341.24 277.1,341.08 280.5,340.30 283.8,339.63 287.2,339.07 290.5,338.75 293.9,338.52 297.3,338.22 300.6,337.76 304.0,337.58 307.3,337.53 310.7,337.49 314.0,337.51 317.4,337.48 320.7,337.57 324.1,337.89 327.5,338.06 330.8,338.39 334.2,338.63 337.5,338.72 340.9,338.58 344.2,338.81 347.6,336.91 350.9,335.72 354.3,335.22 357.6,334.51 361.0,334.19 364.4,333.81 367.7,333.31 371.1,332.62 374.4,332.23 377.8,332.11 381.1,332.18 384.5,332.07 387.8,331.76 391.2,331.62 394.6,330.96 397.9,330.40 401.3,330.47 404.6,330.67 408.0,330.70 411.3,331.50 414.7,332.25 418.0,332.91 421.4,333.70 424.8,334.21 428.1,334.57 431.5,335.30 434.8,336.00 438.2,336.16 441.5,336.50 444.9,336.83 448.2,336.90 451.6,337.12 454.9,337.35 458.3,337.78 461.7,338.06 465.0,338.61 468.4,339.91 471.7,340.84 475.1,341.36 478.4,341.69 481.8,341.95 485.1,341.91 488.5,342.07 491.9,342.02 495.2,341.90 498.6,341.88 501.9,341.87 505.3,341.93 508.6,341.87 512.0,341.96 515.3,341.83 518.7,341.57 522.1,341.45 525.4,341.14 528.8,340.90 532.1,340.83 535.5,340.76 538.8,340.76 542.2,340.62 545.5,340.57 548.9,340.43 552.2,340.29 555.6,340.35 559.0,340.15 562.3,339.79 565.7,339.62 569.0,339.52 572.4,339.42 575.7,339.61 579.1,339.91 582.4,340.09 585.8,340.22 589.2,340.26 592.5,340.44 595.9,340.49 599.2,340.51 602.6,340.49 605.9,340.53 609.3,340.61 612.6,340.90 616.0,341.50 619.4,341.69 622.7,341.62 626.1,341.40 629.4,341.24 632.8,341.17 636.1,341.17 639.5,341.34 642.8,341.69 646.2,341.89 649.5,342.07 652.9,342.37 656.3,343.29 659.6,343.80 663.0,344.20 666.3,344.46 669.7,344.45 673.0,344.46 676.4,344.25 679.7,344.29 683.1,344.30 686.5,344.35 689.8,344.28 693.2,344.12 696.5,343.85 699.9,343.27 703.2,342.80 706.6,342.45 709.9,342.35 713.3,342.28 716.7,342.15 720.0,340.73 723.4,340.00 726.7,339.29 730.1,338.71 733.4,338.21 736.8,337.69 740.1,337.33 743.5,337.26 746.9,337.33 750.2,337.60 753.6,337.83 756.9,338.42 760.3,338.85 763.6,338.89 767.0,339.01 770.3,339.05 773.7,339.03 777.0,339.13 780.4,338.83 783.8,339.01 787.1,339.15 790.5,339.13 793.8,339.08 797.2,339.24 800.5,339.07 803.9,338.72 807.2,338.49 810.6,338.31 814.0,337.89 817.3,337.85 820.7,337.89 824.0,337.97 827.4,338.15 830.7,338.01 834.1,338.08 837.4,338.30 840.8,338.44 844.2,338.79 847.5,339.13 850.9,339.48 854.2,339.67 857.6,339.84 860.9,340.23 864.3,340.80 867.6,341.14 871.0,341.71 874.3,341.92 877.7,342.02 881.1,342.13 884.4,342.17 887.8,342.47 891.1,346.16 894.5,348.34 897.8,349.78 901.2,350.98 904.5,351.49 907.9,351.38 911.3,351.61 914.6,351.54 918.0,351.40 921.3,351.52 924.7,351.99 928.0,351.97 931.4,351.36 934.7,350.47 938.1,349.73 941.5,349.14 944.8,348.38 948.2,347.60 951.5,346.97 954.9,346.87 958.2,346.55 961.6,346.27 964.9,345.91 968.3,345.85 971.6,345.60 975.0,345.27 978.4,345.01 981.7,344.38 985.1,343.09 988.4,342.38 991.8,341.66 995.1,340.93 998.5,340.42 1001.8,340.05 1005.2,339.77 1008.6,339.57 1011.9,339.52 1015.3,339.39 1018.6,340.11 1022.0,342.04 1025.3,343.72 1028.7,344.55 1032.0,345.04 1035.4,345.13 1038.8,345.06 1042.1,345.11 1045.5,345.05 1048.8,345.14 1052.2,345.04 1055.5,344.97" fill="none" stroke="#2244ff" stroke-width="1.2"/>
</g>
<rect x="2.5" y="363" width="1053.0" height="8.5" fill="#7bfa7b"/>
<rect x="2.5" y="382.5" width="1053.0" height="9" fill="#fa7b7b"/>
<line x1="2.5" x2="1055.5" y1="371.5" y2="371.5" stroke="#000" stroke-width="1" stroke-dasharray="2.4 1.1"/>
<line x1="2.5" x2="1055.5" y1="382.5" y2="382.5" stroke="#000" stroke-width="1" stroke-dasharray="2.4 1.1"/>
<line x1="2.5" x2="2.5" y1="363" y2="372" stroke="#111" stroke-width="1"/>
<line x1="2.5" x2="2.5" y1="382" y2="391.5" stroke="#111" stroke-width="1"/>
<line x1="1055.5" x2="1055.5" y1="363" y2="372" stroke="#111" stroke-width="1"/>
<line x1="1055.5" x2="1055.5" y1="382" y2="391.5" stroke="#111" stroke-width="1"/>
<polyline points="2.0,373.95 5.4,376.05 8.7,376.23 12.1,377.90 15.4,380.94 18.8,379.77 22.1,379.12 25.5,378.17 28.8,377.26 32.2,378.46 35.5,379.09 38.9,378.58 42.3,378.64 45.6,378.87 49.0,378.59 52.3,378.73 55.7,377.15 59.0,377.94 62.4,376.28 65.7,375.14 69.1,378.43 72.5,378.10 75.8,377.49 79.2,378.89 82.5,379.92 85.9,378.33 89.2,378.10 92.6,377.99 95.9,377.27 99.3,377.71 102.7,377.96 106.0,377.35 109.4,378.18 112.7,378.09 116.1,377.53 119.4,377.25 122.8,376.91 126.1,377.50 129.5,377.65 132.8,376.56 136.2,373.14 139.6,372.82 142.9,372.66 146.3,372.34 149.6,374.20 153.0,374.00 156.3,372.27 159.7,375.23 163.0,374.80 166.4,376.91 169.8,376.71 173.1,377.14 176.5,379.27 179.8,379.37 183.2,378.72 186.5,379.84 189.9,377.29 193.2,377.49 196.6,379.31 200.0,383.56 203.3,382.97 206.7,383.97 210.0,383.37 213.4,383.17 216.7,382.13 220.1,380.76 223.4,381.58 226.8,380.27 230.1,380.08 233.5,379.69 236.9,379.30 240.2,380.12 243.6,380.39 246.9,378.71 250.3,376.74 253.6,376.74 257.0,378.54 260.3,378.17 263.7,379.64 267.1,380.04 270.4,378.28 273.8,377.73 277.1,378.00 280.5,374.38 283.8,374.14 287.2,374.01 290.5,374.81 293.9,375.01 297.3,374.26 300.6,373.04 304.0,374.34 307.3,374.97 310.7,374.81 314.0,375.04 317.4,374.69 320.7,375.43 324.1,377.41 327.5,376.58 330.8,377.99 334.2,377.77 337.5,376.88 340.9,375.31 344.2,377.74 347.6,370.14 350.9,371.54 354.3,373.43 357.6,372.51 361.0,373.36 364.4,372.88 367.7,372.23 371.1,371.39 374.4,371.80 377.8,372.35 381.1,372.77 384.5,372.11 387.8,371.31 391.2,371.46 394.6,370.04 397.9,369.79 401.3,372.04 404.6,372.33 408.0,371.71 411.3,375.06 414.7,375.17 418.0,375.17 421.4,376.04 424.8,375.42 428.1,375.00 431.5,376.89 434.8,377.25 438.2,375.47 441.5,376.33 444.9,376.42 448.2,375.54 451.6,376.22 454.9,376.36 458.3,377.57 461.7,377.15 465.0,378.67 468.4,381.62 471.7,381.18 475.1,380.16 478.4,379.87 481.8,379.97 485.1,378.74 488.5,379.62 491.9,378.85 495.2,378.54 498.6,379.04 501.9,379.17 505.3,379.69 508.6,379.12 512.0,379.93 515.3,378.76 518.7,377.84 522.1,378.47 525.4,377.19 528.8,377.33 532.1,378.20 535.5,378.20 538.8,378.73 542.2,377.63 545.5,378.21 548.9,377.53 552.2,377.30 555.6,378.75 559.0,376.74 562.3,375.42 565.7,376.29 569.0,376.63 572.4,376.51 575.7,378.59 579.1,379.65 582.4,379.15 585.8,379.12 589.2,378.62 592.5,379.81 595.9,378.98 599.2,378.98 602.6,378.68 605.9,379.29 609.3,379.84 612.6,381.61 616.0,383.67 619.4,380.83 622.7,379.15 626.1,378.07 629.4,378.25 632.8,378.81 636.1,379.36 639.5,380.54 642.8,381.86 646.2,381.32 649.5,381.60 652.9,382.54 656.3,384.99 659.6,383.54 663.0,383.71 666.3,383.71 669.7,382.17 673.0,382.50 676.4,381.02 679.7,382.20 683.1,382.31 686.5,382.76 689.8,382.22 693.2,381.67 696.5,380.85 699.9,378.01 703.2,378.19 706.6,378.57 709.9,379.95 713.3,380.27 716.7,379.74 720.0,372.40 723.4,374.79 726.7,374.28 730.1,374.17 733.4,373.95 736.8,373.40 740.1,373.59 743.5,374.90 746.9,375.61 750.2,376.79 753.6,376.79 756.9,379.05 760.3,378.69 763.6,376.86 767.0,377.33 770.3,376.99 773.7,376.65 777.0,377.37 780.4,375.10 783.8,377.55 787.1,377.55 790.5,376.73 793.8,376.57 797.2,377.76 800.5,375.96 803.9,374.83 807.2,375.02 810.6,375.02 814.0,373.48 817.3,375.44 820.7,375.87 824.0,376.06 827.4,376.82 830.7,375.02 834.1,376.15 837.4,377.21 840.8,376.85 844.2,378.37 847.5,378.68 850.9,379.16 854.2,378.51 857.6,378.69 860.9,380.31 864.3,381.63 867.6,380.91 871.0,382.33 874.3,380.54 877.7,380.32 881.1,380.59 884.4,380.50 887.8,382.00 891.1,387.65 894.5,384.90 897.8,384.26 901.2,384.49 904.5,383.28 907.9,381.83 911.3,382.60 914.6,382.18 918.0,382.28 921.3,382.95 924.7,383.76 928.0,382.73 931.4,380.92 934.7,379.94 938.1,380.13 941.5,380.39 944.8,379.63 948.2,379.30 951.5,379.54 954.9,380.89 958.2,380.16 961.6,380.32 964.9,380.05 968.3,380.95 971.6,380.25 975.0,379.97 978.4,380.16 981.7,378.29 985.1,375.22 988.4,376.66 991.8,376.16 995.1,375.67 998.5,376.03 1001.8,376.23 1005.2,376.29 1008.6,376.48 1011.9,377.00 1015.3,376.57 1018.6,380.26 1022.0,383.58 1025.3,383.92 1028.7,381.86 1032.0,381.41 1035.4,380.37 1038.8,380.08 1042.1,380.55 1045.5,380.39 1048.8,380.99 1052.2,380.45 1055.5,380.67" fill="none" stroke="#2244ff" stroke-width="1.1"/>
<line x1="530" x2="550" y1="323.5" y2="323.5" stroke="#6b6666" stroke-width="1"/>
<line x1="530" x2="550" y1="325.5" y2="325.5" stroke="#6b6666" stroke-width="1"/>
<line x1="530" x2="550" y1="327.5" y2="327.5" stroke="#6b6666" stroke-width="1"/>
<line x1="530" x2="550" y1="355.5" y2="355.5" stroke="#6b6666" stroke-width="1"/>
<line x1="530" x2="550" y1="357.5" y2="357.5" stroke="#6b6666" stroke-width="1"/>
<line x1="530" x2="550" y1="359.5" y2="359.5" stroke="#6b6666" stroke-width="1"/>
<line x1="2.7" x2="2.7" y1="392.5" y2="394.6" stroke="#555" stroke-width="1"/>
<line x1="62.5" x2="62.5" y1="392.5" y2="394.6" stroke="#555" stroke-width="1"/>
<line x1="143.0" x2="143.0" y1="392.5" y2="394.6" stroke="#555" stroke-width="1"/>
<line x1="223.5" x2="223.5" y1="392.5" y2="394.6" stroke="#555" stroke-width="1"/>
<line x1="304.0" x2="304.0" y1="392.5" y2="394.6" stroke="#555" stroke-width="1"/>
<line x1="384.5" x2="384.5" y1="392.5" y2="394.6" stroke="#555" stroke-width="1"/>
<line x1="465.0" x2="465.0" y1="392.5" y2="394.6" stroke="#555" stroke-width="1"/>
<line x1="545.5" x2="545.5" y1="392.5" y2="394.6" stroke="#555" stroke-width="1"/>
<line x1="626.0" x2="626.0" y1="392.5" y2="394.6" stroke="#555" stroke-width="1"/>
<line x1="706.5" x2="706.5" y1="392.5" y2="394.6" stroke="#555" stroke-width="1"/>
<line x1="787.0" x2="787.0" y1="392.5" y2="394.6" stroke="#555" stroke-width="1"/>
<line x1="867.5" x2="867.5" y1="392.5" y2="394.6" stroke="#555" stroke-width="1"/>
<line x1="948.0" x2="948.0" y1="392.5" y2="394.6" stroke="#555" stroke-width="1"/>
<line x1="1028.5" x2="1028.5" y1="392.5" y2="394.6" stroke="#555" stroke-width="1"/>
<line x1="0" x2="1154" y1="426.3" y2="426.3" stroke="#e6e6f0" stroke-width="1"/>
<rect x="7" y="7" width="64.8" height="21.8" fill="rgba(0,0,0,0.6)"/>
<rect x="7" y="7" width="3" height="21.8" fill="#2a8a72"/>
<rect x="73.2" y="7" width="21.7" height="21.8" fill="rgba(0,0,0,0.6)"/>
<rect x="96.3" y="7" width="21.7" height="21.8" fill="rgba(0,0,0,0.6)"/>
<rect x="7" y="34" width="70.8" height="21.8" fill="rgba(0,0,0,0.6)"/>
<rect x="7" y="34" width="3" height="21.8" fill="#0026ff"/>
<rect x="7" y="61" width="77" height="21.8" fill="rgba(0,0,0,0.6)"/>
<rect x="7" y="61" width="3" height="21.8" fill="#e65c00"/>
<rect x="7" y="334.2" width="95" height="18.4" fill="rgba(0,0,0,0.6)"/>
<rect x="7" y="334.2" width="3" height="18.4" fill="#0026ff"/>
<rect x="7" y="366" width="97" height="21.7" fill="rgba(0,0,0,0.6)"/>
<rect x="7" y="366" width="3" height="21.7" fill="#00f000"/>
<g fill="none" stroke="#fff" stroke-width="1.3" stroke-linecap="butt">
<path d="M84.95,13.45 A5.5,5.5 0 1 0 90.44,19.25"/>
</g>
<path d="M84.2,10.8 L87.2,13.7 L84.5,16.2 Z" fill="#fff"/>
<g fill="none" stroke="#fff" stroke-width="1.2">
<path d="M101.5,18 L101.5,23.2 L113.6,23.2 L113.6,13.7 L102.5,13.7"/>
</g>
<path d="M99.8,13.7 L102.9,11 L102.9,16.4 Z" fill="#fff"/>
<g stroke="#fff" stroke-width="1.2"><line x1="104.3" x2="104.3" y1="18" y2="21.2"/><line x1="107.4" x2="107.4" y1="17" y2="21.2"/><line x1="110.6" x2="110.6" y1="16" y2="21.2"/></g>
<g font-family="Liberation Sans, Arial, sans-serif" font-size="11px">
<g fill="#fff" font-weight="bold">
<text x="15.9" y="21.8">XRP/USD</text>
<text x="15.9" y="48.8">SMA (50,0)</text>
<text x="15.9" y="75.8">SMA (100,0)</text>
<text x="15.8" y="349">MACD (12,26,9)</text>
<text x="16.2" y="381.8">RSI (14,70,30,1)</text>
</g>
<g fill="#5a5a5a">
<text x="1086.3" y="25">0.3450</text>
<text x="1086.3" y="48">0.3400</text>
<text x="1086.3" y="72">0.3350</text>
<text x="1086.3" y="96">0.3300</text>
<text x="1086.3" y="119">0.3250</text>
<text x="1086.3" y="143">0.3200</text>
<text x="1086.3" y="167">0.3150</text>
<text x="1086.3" y="190">0.3100</text>
<text x="1086.3" y="214">0.3050</text>
<text x="1086.3" y="238">0.3000</text>
<text x="1086.3" y="262">0.2950</text>
<text x="1086.3" y="285">0.2900</text>
<text x="1086.3" y="309">0.2850</text>
<text x="1086.3" y="343.4">0.0000</text>
<text x="1086.3" y="394.7">0.0000</text>
<text x="2" y="408.7">Apr</text>
<text x="62.6" y="408.7" text-anchor="middle">14</text>
<text x="143.1" y="408.7" text-anchor="middle">15</text>
<text x="223.6" y="408.7" text-anchor="middle">16</text>
<text x="304.1" y="408.7" text-anchor="middle">17</text>
<text x="384.6" y="408.7" text-anchor="middle">18</text>
<text x="465.1" y="408.7" text-anchor="middle">19</text>
<text x="545.6" y="408.7" text-anchor="middle">20</text>
<text x="626.1" y="408.7" text-anchor="middle">21</text>
<text x="706.6" y="408.7" text-anchor="middle">22</text>
<text x="787.1" y="408.7" text-anchor="middle">23</text>
<text x="867.6" y="408.7" text-anchor="middle">24</text>
<text x="948.1" y="408.7" text-anchor="middle">25</text>
<text x="1028.6" y="408.7" text-anchor="middle">26</text>
</g>
<path d="M1075.3,274.6 L1081.8,268.2 L1136,268.2 L1136,281.9 L1081.8,281.9 Z" fill="#2e4a73"/>
<text x="1086.3" y="278.7" fill="#fff" font-weight="bold">0.291353</text>
<g fill="#66ff00">
<text x="770.8" y="261">Support turned resistance</text>
<text x="797.9" y="307">New Support</text>
</g>
</g>
</svg>
</div></body></html>
